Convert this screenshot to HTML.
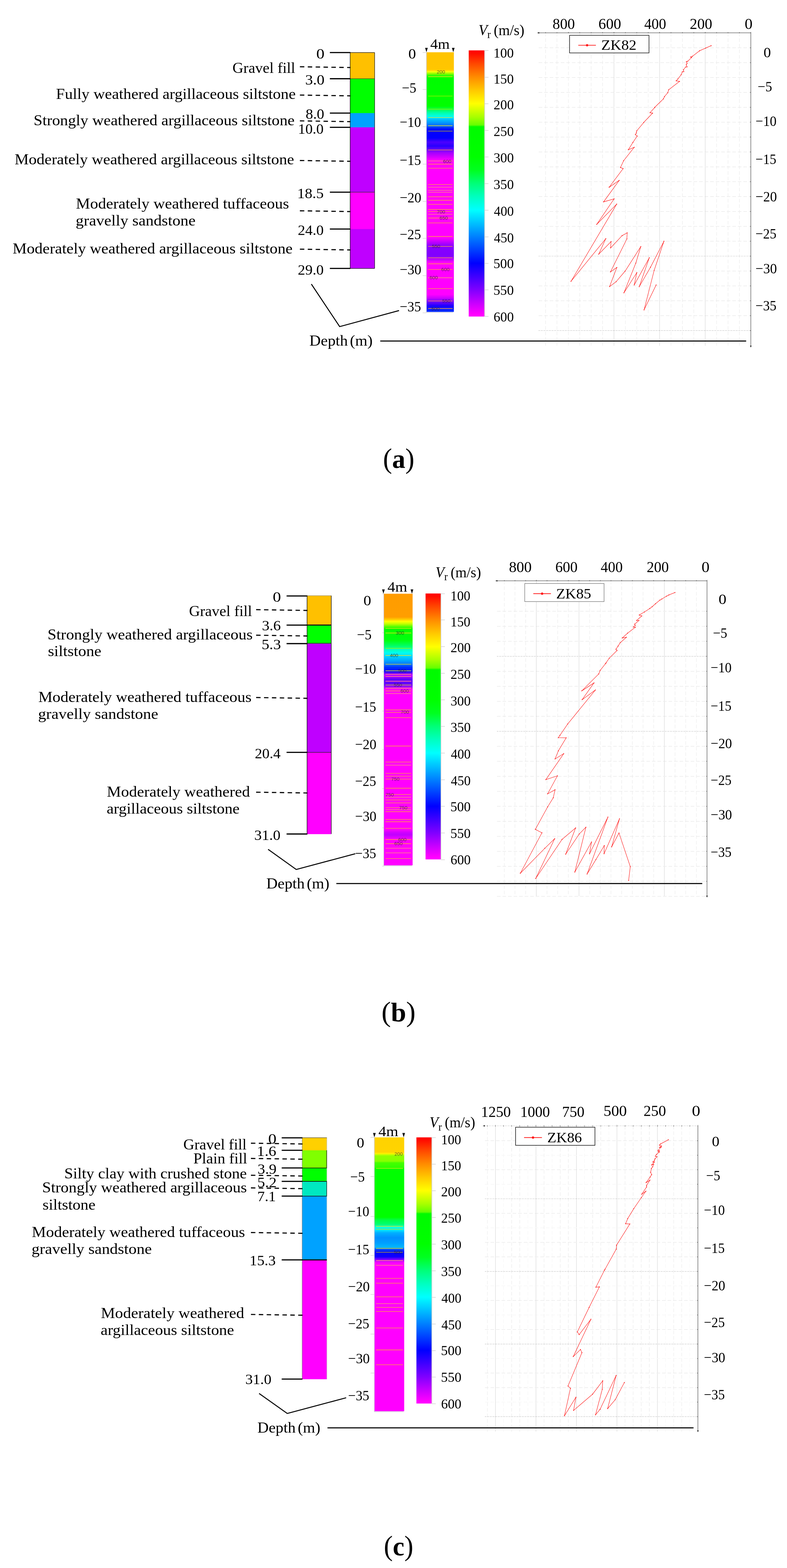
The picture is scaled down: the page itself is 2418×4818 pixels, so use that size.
<!DOCTYPE html>
<html lang="en"><head><meta charset="utf-8"><title>Borehole logs and Rayleigh wave velocity profiles</title>
<style>
html,body{margin:0;padding:0;background:#fff}
svg{display:block}
text{font-family:"Liberation Serif", "DejaVu Serif", serif;white-space:pre}
text.s{font-family:"Liberation Sans", "DejaVu Sans", sans-serif}
</style></head>
<body>
<svg width="2418" height="4818" viewBox="0 0 2418 4818">
<defs><linearGradient id="cb" x1="0" y1="0" x2="0" y2="1"><stop offset="0.0000" stop-color="#ff0000"/><stop offset="0.0080" stop-color="#ff0800"/><stop offset="0.0500" stop-color="#ff4800"/><stop offset="0.1000" stop-color="#ff8c00"/><stop offset="0.1500" stop-color="#ffc800"/><stop offset="0.2000" stop-color="#ffff00"/><stop offset="0.2500" stop-color="#a8ff00"/><stop offset="0.2800" stop-color="#66ff00"/><stop offset="0.2870" stop-color="#00fb00"/><stop offset="0.4000" stop-color="#00ff00"/><stop offset="0.4500" stop-color="#00ff20"/><stop offset="0.5000" stop-color="#00ff78"/><stop offset="0.5500" stop-color="#00ffc0"/><stop offset="0.6000" stop-color="#00ffff"/><stop offset="0.6500" stop-color="#00c0ff"/><stop offset="0.7000" stop-color="#0080ff"/><stop offset="0.7500" stop-color="#0040ff"/><stop offset="0.8000" stop-color="#0000ff"/><stop offset="0.8500" stop-color="#4000ff"/><stop offset="0.9000" stop-color="#8000ff"/><stop offset="0.9500" stop-color="#c800ff"/><stop offset="0.9900" stop-color="#ff00ff"/><stop offset="1.0000" stop-color="#ff00ff"/></linearGradient><linearGradient id="p0v" x1="0" y1="0" x2="0" y2="1"><stop offset="0.0000" stop-color="#ffc400"/><stop offset="0.0657" stop-color="#ffc600"/><stop offset="0.0707" stop-color="#ffdc00"/><stop offset="0.0745" stop-color="#fbff08"/><stop offset="0.0807" stop-color="#a8ff00"/><stop offset="0.0895" stop-color="#30ff00"/><stop offset="0.0995" stop-color="#00fc00"/><stop offset="0.2073" stop-color="#00ff00"/><stop offset="0.2174" stop-color="#00ff38"/><stop offset="0.2312" stop-color="#00ffa0"/><stop offset="0.2450" stop-color="#00ffe0"/><stop offset="0.2512" stop-color="#00f0ff"/><stop offset="0.2575" stop-color="#00c4ff"/><stop offset="0.2713" stop-color="#0098ff"/><stop offset="0.2838" stop-color="#0064ff"/><stop offset="0.2938" stop-color="#0018ff"/><stop offset="0.3039" stop-color="#0000ff"/><stop offset="0.3302" stop-color="#0400ff"/><stop offset="0.3465" stop-color="#4c00ff"/><stop offset="0.3615" stop-color="#2800ff"/><stop offset="0.3728" stop-color="#6000ff"/><stop offset="0.3879" stop-color="#a800ff"/><stop offset="0.4029" stop-color="#d400ff"/><stop offset="0.4167" stop-color="#ff00ff"/><stop offset="0.7138" stop-color="#ff00ff"/><stop offset="0.7288" stop-color="#c800ff"/><stop offset="0.7464" stop-color="#8800ff"/><stop offset="0.7840" stop-color="#8000ff"/><stop offset="0.7953" stop-color="#b000ff"/><stop offset="0.8091" stop-color="#ff00ff"/><stop offset="0.9332" stop-color="#ff00ff"/><stop offset="0.9457" stop-color="#d000ff"/><stop offset="0.9620" stop-color="#7000ff"/><stop offset="0.9771" stop-color="#1c00ff"/><stop offset="1.0000" stop-color="#0030ff"/></linearGradient><linearGradient id="p1v" x1="0" y1="0" x2="0" y2="1"><stop offset="0.0000" stop-color="#ff9c00"/><stop offset="0.0858" stop-color="#ff9e00"/><stop offset="0.0942" stop-color="#ffc800"/><stop offset="0.1020" stop-color="#ffff00"/><stop offset="0.1110" stop-color="#c0ff00"/><stop offset="0.1217" stop-color="#50ff00"/><stop offset="0.1301" stop-color="#00fc00"/><stop offset="0.1721" stop-color="#00ff10"/><stop offset="0.1948" stop-color="#00ff70"/><stop offset="0.2056" stop-color="#00ffc0"/><stop offset="0.2176" stop-color="#00fff0"/><stop offset="0.2296" stop-color="#00d8ff"/><stop offset="0.2464" stop-color="#00a8ff"/><stop offset="0.2608" stop-color="#0070ff"/><stop offset="0.2703" stop-color="#0030ff"/><stop offset="0.2847" stop-color="#0010ff"/><stop offset="0.2919" stop-color="#6000ff"/><stop offset="0.3003" stop-color="#c400ff"/><stop offset="0.3075" stop-color="#9000ff"/><stop offset="0.3159" stop-color="#5c00ff"/><stop offset="0.3351" stop-color="#6800ff"/><stop offset="0.3434" stop-color="#a800ff"/><stop offset="0.3518" stop-color="#ff00ff"/><stop offset="0.8671" stop-color="#ff00ff"/><stop offset="0.8791" stop-color="#d000ff"/><stop offset="0.8875" stop-color="#c000ff"/><stop offset="0.8971" stop-color="#e000ff"/><stop offset="0.9055" stop-color="#ff00ff"/><stop offset="1.0000" stop-color="#ff00ff"/></linearGradient><linearGradient id="p2v" x1="0" y1="0" x2="0" y2="1"><stop offset="0.0000" stop-color="#ffd200"/><stop offset="0.0537" stop-color="#ffd400"/><stop offset="0.0591" stop-color="#fff000"/><stop offset="0.0632" stop-color="#c4ff00"/><stop offset="0.0680" stop-color="#90ff00"/><stop offset="0.0870" stop-color="#88ff00"/><stop offset="0.0929" stop-color="#44ff00"/><stop offset="0.1096" stop-color="#30ff00"/><stop offset="0.1143" stop-color="#00ff00"/><stop offset="0.2914" stop-color="#00ff00"/><stop offset="0.3009" stop-color="#00ff40"/><stop offset="0.3176" stop-color="#00ff70"/><stop offset="0.3271" stop-color="#00ffd0"/><stop offset="0.3366" stop-color="#00f0ff"/><stop offset="0.3485" stop-color="#00b0ff"/><stop offset="0.3663" stop-color="#0090ff"/><stop offset="0.3865" stop-color="#00a0ff"/><stop offset="0.4008" stop-color="#00b8ff"/><stop offset="0.4103" stop-color="#0040ff"/><stop offset="0.4198" stop-color="#0000ff"/><stop offset="0.4364" stop-color="#1000ff"/><stop offset="0.4459" stop-color="#8000ff"/><stop offset="0.4578" stop-color="#ff00ff"/><stop offset="1.0000" stop-color="#ff00ff"/></linearGradient></defs>
<rect width="2418" height="4818" fill="#fff"/>
<rect x="1075.7" y="161.5" width="75.4" height="80.9" fill="#ffc000"/>
<rect x="1075.7" y="241.9" width="75.4" height="106.1" fill="#00ff00"/>
<rect x="1075.7" y="347.5" width="75.4" height="44.2" fill="#00a2ff"/>
<rect x="1075.7" y="391.2" width="75.4" height="199.8" fill="#bf00ff"/>
<rect x="1075.7" y="590.5" width="75.4" height="113.8" fill="#ff00ff"/>
<rect x="1075.7" y="703.8" width="75.4" height="121.5" fill="#bf00ff"/>
<line x1="1075.7" y1="161.5" x2="1075.7" y2="824.8" stroke="#111" stroke-width="1.4" stroke-linecap="butt"/>
<line x1="1151.1" y1="161.5" x2="1151.1" y2="824.8" stroke="#111" stroke-width="1.4" stroke-linecap="butt"/>
<line x1="1075.7" y1="161.5" x2="1151.1" y2="161.5" stroke="#111" stroke-width="1.4" stroke-linecap="butt"/>
<line x1="1075.7" y1="824.8" x2="1151.1" y2="824.8" stroke="#111" stroke-width="1.4" stroke-linecap="butt"/>
<line x1="1075.7" y1="241.9" x2="1151.1" y2="241.9" stroke="#333" stroke-width="1.3" stroke-linecap="butt"/>
<line x1="1075.7" y1="590.5" x2="1151.1" y2="590.5" stroke="#333" stroke-width="1.3" stroke-linecap="butt"/>
<line x1="1013.5" y1="161.5" x2="1076.7" y2="161.5" stroke="#000" stroke-width="3.6" stroke-linecap="butt"/>
<line x1="1013.5" y1="241.9" x2="1076.7" y2="241.9" stroke="#000" stroke-width="3.6" stroke-linecap="butt"/>
<line x1="1013.5" y1="347.5" x2="1076.7" y2="347.5" stroke="#000" stroke-width="3.6" stroke-linecap="butt"/>
<line x1="1013.5" y1="391.2" x2="1076.7" y2="391.2" stroke="#000" stroke-width="3.6" stroke-linecap="butt"/>
<line x1="1013.5" y1="590.5" x2="1076.7" y2="590.5" stroke="#000" stroke-width="3.6" stroke-linecap="butt"/>
<line x1="1013.5" y1="703.8" x2="1076.7" y2="703.8" stroke="#000" stroke-width="3.6" stroke-linecap="butt"/>
<line x1="1013.5" y1="824.8" x2="1076.7" y2="824.8" stroke="#000" stroke-width="3.6" stroke-linecap="butt"/>
<line x1="921.4" y1="205.1" x2="1076.9" y2="207.5" stroke="#000" stroke-width="3.4" stroke-dasharray="13.6 10.6" stroke-linecap="butt"/>
<line x1="921.4" y1="292.1" x2="1076.9" y2="294.5" stroke="#000" stroke-width="3.4" stroke-dasharray="13.6 10.6" stroke-linecap="butt"/>
<line x1="921.4" y1="371.4" x2="1076.9" y2="373.8" stroke="#000" stroke-width="3.4" stroke-dasharray="13.6 10.6" stroke-linecap="butt"/>
<line x1="921.4" y1="493.2" x2="1076.9" y2="495.6" stroke="#000" stroke-width="3.4" stroke-dasharray="13.6 10.6" stroke-linecap="butt"/>
<line x1="921.4" y1="647.7" x2="1076.9" y2="650.1" stroke="#000" stroke-width="3.4" stroke-dasharray="13.6 10.6" stroke-linecap="butt"/>
<line x1="921.4" y1="765.6" x2="1076.9" y2="768" stroke="#000" stroke-width="3.4" stroke-dasharray="13.6 10.6" stroke-linecap="butt"/>
<text transform="translate(971.76 180.20) scale(1.1208 1)" font-size="45">0</text>
<text transform="translate(937.67 260.10) scale(1.0556 1)" font-size="45">3.0</text>
<text transform="translate(938.96 365.20) scale(1.0191 1)" font-size="45">8.0</text>
<text transform="translate(915.82 410.80) scale(0.9959 1)" font-size="45">10.0</text>
<text transform="translate(913.16 609.40) scale(1.0340 1)" font-size="45">18.5</text>
<text transform="translate(914.98 722.00) scale(1.0093 1)" font-size="45">24.0</text>
<text transform="translate(914.98 844.20) scale(1.0093 1)" font-size="45">29.0</text>
<text transform="translate(714.22 223.50) scale(0.9916 1)" font-size="47">Gravel fill</text>
<text transform="translate(172.08 304.40) scale(1.0370 1)" font-size="47">Fully weathered argillaceous siltstone</text>
<text transform="translate(103.27 385.40) scale(1.0375 1)" font-size="47">Strongly weathered argillaceous siltstone</text>
<text transform="translate(44.88 504.50) scale(1.0379 1)" font-size="47">Moderately weathered argillaceous siltstone</text>
<text transform="translate(233.37 640.60) scale(1.0427 1)" font-size="47">Moderately weathered tuffaceous</text>
<text transform="translate(232.59 693.30) scale(1.0493 1)" font-size="47">gravelly sandstone</text>
<text transform="translate(38.77 778.80) scale(1.0393 1)" font-size="47">Moderately weathered argillaceous siltstone</text>
<polyline points="956.6,872.9 1043.6,1003.6 1226,954.3" fill="none" stroke="#000" stroke-width="3" stroke-linejoin="miter"/>
<text transform="translate(950.59 1062.40) scale(1.0279 1)" font-size="47">Depth<tspan dx="-5.5"> (m)</tspan></text>
<line x1="2271.77" y1="100.9" x2="2271.77" y2="1062" stroke="#ececec" stroke-width="1.5" stroke-dasharray="11 6" stroke-linecap="butt"/>
<line x1="2236.74" y1="100.9" x2="2236.74" y2="1062" stroke="#ececec" stroke-width="1.5" stroke-dasharray="11 6" stroke-linecap="butt"/>
<line x1="2201.71" y1="100.9" x2="2201.71" y2="1062" stroke="#ececec" stroke-width="1.5" stroke-dasharray="11 6" stroke-linecap="butt"/>
<line x1="2166.68" y1="100.9" x2="2166.68" y2="1062" stroke="#a8a8a8" stroke-width="1.2" stroke-dasharray="1.5 1.5" stroke-linecap="butt"/>
<line x1="2131.65" y1="100.9" x2="2131.65" y2="1062" stroke="#ececec" stroke-width="1.5" stroke-dasharray="11 6" stroke-linecap="butt"/>
<line x1="2096.62" y1="100.9" x2="2096.62" y2="1062" stroke="#ececec" stroke-width="1.5" stroke-dasharray="11 6" stroke-linecap="butt"/>
<line x1="2061.59" y1="100.9" x2="2061.59" y2="1062" stroke="#ececec" stroke-width="1.5" stroke-dasharray="11 6" stroke-linecap="butt"/>
<line x1="2026.56" y1="100.9" x2="2026.56" y2="1062" stroke="#a8a8a8" stroke-width="1.2" stroke-dasharray="1.5 1.5" stroke-linecap="butt"/>
<line x1="1991.53" y1="100.9" x2="1991.53" y2="1062" stroke="#ececec" stroke-width="1.5" stroke-dasharray="11 6" stroke-linecap="butt"/>
<line x1="1956.5" y1="100.9" x2="1956.5" y2="1062" stroke="#ececec" stroke-width="1.5" stroke-dasharray="11 6" stroke-linecap="butt"/>
<line x1="1921.47" y1="100.9" x2="1921.47" y2="1062" stroke="#ececec" stroke-width="1.5" stroke-dasharray="11 6" stroke-linecap="butt"/>
<line x1="1886.44" y1="100.9" x2="1886.44" y2="1062" stroke="#a8a8a8" stroke-width="1.2" stroke-dasharray="1.5 1.5" stroke-linecap="butt"/>
<line x1="1851.41" y1="100.9" x2="1851.41" y2="1062" stroke="#ececec" stroke-width="1.5" stroke-dasharray="11 6" stroke-linecap="butt"/>
<line x1="1816.38" y1="100.9" x2="1816.38" y2="1062" stroke="#ececec" stroke-width="1.5" stroke-dasharray="11 6" stroke-linecap="butt"/>
<line x1="1781.35" y1="100.9" x2="1781.35" y2="1062" stroke="#ececec" stroke-width="1.5" stroke-dasharray="11 6" stroke-linecap="butt"/>
<line x1="1746.32" y1="100.9" x2="1746.32" y2="1062" stroke="#ececec" stroke-width="1.5" stroke-dasharray="11 6" stroke-linecap="butt"/>
<line x1="1711.29" y1="100.9" x2="1711.29" y2="1062" stroke="#ececec" stroke-width="1.5" stroke-dasharray="11 6" stroke-linecap="butt"/>
<line x1="1676.26" y1="100.9" x2="1676.26" y2="1062" stroke="#ececec" stroke-width="1.5" stroke-dasharray="11 6" stroke-linecap="butt"/>
<line x1="1655" y1="146.8" x2="2306.8" y2="146.8" stroke="#e8e8e8" stroke-width="1.5" stroke-dasharray="11 6" stroke-linecap="butt"/>
<line x1="1655" y1="192.53" x2="2306.8" y2="192.53" stroke="#e8e8e8" stroke-width="1.5" stroke-dasharray="11 6" stroke-linecap="butt"/>
<line x1="1655" y1="238.26" x2="2306.8" y2="238.26" stroke="#e8e8e8" stroke-width="1.5" stroke-dasharray="11 6" stroke-linecap="butt"/>
<line x1="1655" y1="283.99" x2="2306.8" y2="283.99" stroke="#e8e8e8" stroke-width="1.5" stroke-dasharray="11 6" stroke-linecap="butt"/>
<line x1="1655" y1="329.72" x2="2306.8" y2="329.72" stroke="#e8e8e8" stroke-width="1.5" stroke-dasharray="11 6" stroke-linecap="butt"/>
<line x1="1655" y1="375.45" x2="2306.8" y2="375.45" stroke="#e8e8e8" stroke-width="1.5" stroke-dasharray="11 6" stroke-linecap="butt"/>
<line x1="1655" y1="421.18" x2="2306.8" y2="421.18" stroke="#e8e8e8" stroke-width="1.5" stroke-dasharray="11 6" stroke-linecap="butt"/>
<line x1="1655" y1="466.91" x2="2306.8" y2="466.91" stroke="#e8e8e8" stroke-width="1.5" stroke-dasharray="11 6" stroke-linecap="butt"/>
<line x1="1655" y1="512.64" x2="2306.8" y2="512.64" stroke="#e8e8e8" stroke-width="1.5" stroke-dasharray="11 6" stroke-linecap="butt"/>
<line x1="1655" y1="558.37" x2="2306.8" y2="558.37" stroke="#e8e8e8" stroke-width="1.5" stroke-dasharray="11 6" stroke-linecap="butt"/>
<line x1="1655" y1="604.1" x2="2306.8" y2="604.1" stroke="#e8e8e8" stroke-width="1.5" stroke-dasharray="11 6" stroke-linecap="butt"/>
<line x1="1655" y1="649.83" x2="2306.8" y2="649.83" stroke="#e8e8e8" stroke-width="1.5" stroke-dasharray="11 6" stroke-linecap="butt"/>
<line x1="1655" y1="695.56" x2="2306.8" y2="695.56" stroke="#e8e8e8" stroke-width="1.5" stroke-dasharray="11 6" stroke-linecap="butt"/>
<line x1="1655" y1="741.29" x2="2306.8" y2="741.29" stroke="#e8e8e8" stroke-width="1.5" stroke-dasharray="11 6" stroke-linecap="butt"/>
<line x1="1655" y1="787.02" x2="2306.8" y2="787.02" stroke="#adadad" stroke-width="1.2" stroke-dasharray="3 2 1.2 2" stroke-linecap="butt"/>
<line x1="1655" y1="832.75" x2="2306.8" y2="832.75" stroke="#e8e8e8" stroke-width="1.5" stroke-dasharray="11 6" stroke-linecap="butt"/>
<line x1="1655" y1="878.48" x2="2306.8" y2="878.48" stroke="#e8e8e8" stroke-width="1.5" stroke-dasharray="11 6" stroke-linecap="butt"/>
<line x1="1655" y1="924.21" x2="2306.8" y2="924.21" stroke="#e8e8e8" stroke-width="1.5" stroke-dasharray="11 6" stroke-linecap="butt"/>
<line x1="1655" y1="969.94" x2="2306.8" y2="969.94" stroke="#e8e8e8" stroke-width="1.5" stroke-dasharray="11 6" stroke-linecap="butt"/>
<line x1="1655" y1="1015.67" x2="2306.8" y2="1015.67" stroke="#adadad" stroke-width="1.2" stroke-dasharray="3 2 1.2 2" stroke-linecap="butt"/>
<line x1="1654.3" y1="100.9" x2="2306.8" y2="100.9" stroke="#3a3a3a" stroke-width="1.25" stroke-linecap="butt"/>
<line x1="2306.8" y1="97.9" x2="2306.8" y2="101.4" stroke="#3a3a3a" stroke-width="1.1" stroke-linecap="butt"/>
<line x1="2271.77" y1="98.7" x2="2271.77" y2="101.4" stroke="#3a3a3a" stroke-width="1.1" stroke-linecap="butt"/>
<line x1="2236.74" y1="98.7" x2="2236.74" y2="101.4" stroke="#3a3a3a" stroke-width="1.1" stroke-linecap="butt"/>
<line x1="2201.71" y1="98.7" x2="2201.71" y2="101.4" stroke="#3a3a3a" stroke-width="1.1" stroke-linecap="butt"/>
<line x1="2166.68" y1="97.9" x2="2166.68" y2="101.4" stroke="#3a3a3a" stroke-width="1.1" stroke-linecap="butt"/>
<line x1="2131.65" y1="98.7" x2="2131.65" y2="101.4" stroke="#3a3a3a" stroke-width="1.1" stroke-linecap="butt"/>
<line x1="2096.62" y1="98.7" x2="2096.62" y2="101.4" stroke="#3a3a3a" stroke-width="1.1" stroke-linecap="butt"/>
<line x1="2061.59" y1="98.7" x2="2061.59" y2="101.4" stroke="#3a3a3a" stroke-width="1.1" stroke-linecap="butt"/>
<line x1="2026.56" y1="97.9" x2="2026.56" y2="101.4" stroke="#3a3a3a" stroke-width="1.1" stroke-linecap="butt"/>
<line x1="1991.53" y1="98.7" x2="1991.53" y2="101.4" stroke="#3a3a3a" stroke-width="1.1" stroke-linecap="butt"/>
<line x1="1956.5" y1="98.7" x2="1956.5" y2="101.4" stroke="#3a3a3a" stroke-width="1.1" stroke-linecap="butt"/>
<line x1="1921.47" y1="98.7" x2="1921.47" y2="101.4" stroke="#3a3a3a" stroke-width="1.1" stroke-linecap="butt"/>
<line x1="1886.44" y1="97.9" x2="1886.44" y2="101.4" stroke="#3a3a3a" stroke-width="1.1" stroke-linecap="butt"/>
<line x1="1851.41" y1="98.7" x2="1851.41" y2="101.4" stroke="#3a3a3a" stroke-width="1.1" stroke-linecap="butt"/>
<line x1="1816.38" y1="98.7" x2="1816.38" y2="101.4" stroke="#3a3a3a" stroke-width="1.1" stroke-linecap="butt"/>
<line x1="1781.35" y1="98.7" x2="1781.35" y2="101.4" stroke="#3a3a3a" stroke-width="1.1" stroke-linecap="butt"/>
<line x1="1746.32" y1="97.9" x2="1746.32" y2="101.4" stroke="#3a3a3a" stroke-width="1.1" stroke-linecap="butt"/>
<line x1="1711.29" y1="98.7" x2="1711.29" y2="101.4" stroke="#3a3a3a" stroke-width="1.1" stroke-linecap="butt"/>
<line x1="1676.26" y1="98.7" x2="1676.26" y2="101.4" stroke="#3a3a3a" stroke-width="1.1" stroke-linecap="butt"/>
<path d="M1650.3 100.9 l6.5 -2.4 l0 4.8 z" fill="#222"/>
<line x1="2306.8" y1="100.2" x2="2306.8" y2="1064" stroke="#3a3a3a" stroke-width="1.3" stroke-linecap="butt"/>
<path d="M2306.8 1068 l-2.4 -6 l4.8 0 z" fill="#222"/>
<line x1="2304.6" y1="146.8" x2="2307.3" y2="146.8" stroke="#3a3a3a" stroke-width="1.3" stroke-linecap="butt"/>
<line x1="2304.6" y1="192.53" x2="2307.3" y2="192.53" stroke="#3a3a3a" stroke-width="1.3" stroke-linecap="butt"/>
<line x1="2304.6" y1="238.26" x2="2307.3" y2="238.26" stroke="#3a3a3a" stroke-width="1.3" stroke-linecap="butt"/>
<line x1="2304.6" y1="283.99" x2="2307.3" y2="283.99" stroke="#3a3a3a" stroke-width="1.3" stroke-linecap="butt"/>
<line x1="2304.6" y1="329.72" x2="2307.3" y2="329.72" stroke="#3a3a3a" stroke-width="1.3" stroke-linecap="butt"/>
<line x1="2304.6" y1="375.45" x2="2307.3" y2="375.45" stroke="#3a3a3a" stroke-width="1.3" stroke-linecap="butt"/>
<line x1="2304.6" y1="421.18" x2="2307.3" y2="421.18" stroke="#3a3a3a" stroke-width="1.3" stroke-linecap="butt"/>
<line x1="2304.6" y1="466.91" x2="2307.3" y2="466.91" stroke="#3a3a3a" stroke-width="1.3" stroke-linecap="butt"/>
<line x1="2304.6" y1="512.64" x2="2307.3" y2="512.64" stroke="#3a3a3a" stroke-width="1.3" stroke-linecap="butt"/>
<line x1="2304.6" y1="558.37" x2="2307.3" y2="558.37" stroke="#3a3a3a" stroke-width="1.3" stroke-linecap="butt"/>
<line x1="2304.6" y1="604.1" x2="2307.3" y2="604.1" stroke="#3a3a3a" stroke-width="1.3" stroke-linecap="butt"/>
<line x1="2304.6" y1="649.83" x2="2307.3" y2="649.83" stroke="#3a3a3a" stroke-width="1.3" stroke-linecap="butt"/>
<line x1="2304.6" y1="695.56" x2="2307.3" y2="695.56" stroke="#3a3a3a" stroke-width="1.3" stroke-linecap="butt"/>
<line x1="2304.6" y1="741.29" x2="2307.3" y2="741.29" stroke="#3a3a3a" stroke-width="1.3" stroke-linecap="butt"/>
<line x1="2304.6" y1="787.02" x2="2307.3" y2="787.02" stroke="#3a3a3a" stroke-width="1.3" stroke-linecap="butt"/>
<line x1="2304.6" y1="832.75" x2="2307.3" y2="832.75" stroke="#3a3a3a" stroke-width="1.3" stroke-linecap="butt"/>
<line x1="2304.6" y1="878.48" x2="2307.3" y2="878.48" stroke="#3a3a3a" stroke-width="1.3" stroke-linecap="butt"/>
<line x1="2304.6" y1="924.21" x2="2307.3" y2="924.21" stroke="#3a3a3a" stroke-width="1.3" stroke-linecap="butt"/>
<line x1="2304.6" y1="969.94" x2="2307.3" y2="969.94" stroke="#3a3a3a" stroke-width="1.3" stroke-linecap="butt"/>
<line x1="2304.6" y1="1015.67" x2="2307.3" y2="1015.67" stroke="#3a3a3a" stroke-width="1.3" stroke-linecap="butt"/>
<polyline points="2184.92,140.46 2168.23,147.7 2149.13,156.14 2127.01,173.23 2121.98,175.24 2125,176.65 2112.93,188.31 2108.91,189.32 2110.92,194.35 2108.51,199.37 2110.92,205.41 2106.5,205.81 2099.86,214.46 2100.87,220.09 2096.44,220.49 2092.83,229.54 2082.77,242.61 2077.74,248.24 2087.8,250.05 2054.62,275.79 2051.6,284.84 2041.55,296.9 2038.13,303.94 2011.39,330.08 2011.93,330.05 1997.25,346.14 2004.89,347.75 1977.74,376.3 1956.23,402.45 1955.02,408.48 1952.21,413.5 1957.64,418.13 1944.56,437.64 1930.49,460.16 1948.59,452.72 1916.01,493.94 1906.36,514.65 1914.4,518.07 1871.6,575.41 1902.37,554.29 1854.51,620.25 1886.68,611.2 1833.4,689.42 1894.73,627.09 1754.35,864.46 1861.26,733.31 1839.48,781.07 1877.34,742.46 1876.1,761.76 1911.24,724.15 1926.83,715.49 1926.09,734.05 1875.61,835.51 1895.16,821.9 1872.89,880.55 1892.93,865.7 1920.65,833.03 1968.9,757.56 1953.31,808.78 1916.94,899.85 1956.53,837.74 1948.61,875.6 1994.89,791.95 1963.95,881.04 1998.6,821.16 2039.93,741.22 2009.74,831.05 1978.8,952.31 2015.92,875.6" fill="none" stroke="#ff1c1c" stroke-width="1.3" stroke-linejoin="round"/>
<circle cx="2184.92" cy="140.46" r="1.4" fill="#ff1c1c"/>
<circle cx="2168.23" cy="147.7" r="1.4" fill="#ff1c1c"/>
<circle cx="2149.13" cy="156.14" r="1.4" fill="#ff1c1c"/>
<circle cx="2127.01" cy="173.23" r="1.4" fill="#ff1c1c"/>
<circle cx="2121.98" cy="175.24" r="1.4" fill="#ff1c1c"/>
<circle cx="2125" cy="176.65" r="1.4" fill="#ff1c1c"/>
<circle cx="2112.93" cy="188.31" r="1.4" fill="#ff1c1c"/>
<circle cx="2108.91" cy="189.32" r="1.4" fill="#ff1c1c"/>
<circle cx="2110.92" cy="194.35" r="1.4" fill="#ff1c1c"/>
<circle cx="2108.51" cy="199.37" r="1.4" fill="#ff1c1c"/>
<circle cx="2110.92" cy="205.41" r="1.4" fill="#ff1c1c"/>
<circle cx="2106.5" cy="205.81" r="1.4" fill="#ff1c1c"/>
<circle cx="2099.86" cy="214.46" r="1.4" fill="#ff1c1c"/>
<circle cx="2100.87" cy="220.09" r="1.4" fill="#ff1c1c"/>
<circle cx="2096.44" cy="220.49" r="1.4" fill="#ff1c1c"/>
<circle cx="2092.83" cy="229.54" r="1.4" fill="#ff1c1c"/>
<circle cx="2082.77" cy="242.61" r="1.4" fill="#ff1c1c"/>
<circle cx="2077.74" cy="248.24" r="1.4" fill="#ff1c1c"/>
<circle cx="2087.8" cy="250.05" r="1.4" fill="#ff1c1c"/>
<circle cx="2054.62" cy="275.79" r="1.4" fill="#ff1c1c"/>
<circle cx="2051.6" cy="284.84" r="1.4" fill="#ff1c1c"/>
<circle cx="2041.55" cy="296.9" r="1.4" fill="#ff1c1c"/>
<circle cx="2038.13" cy="303.94" r="1.4" fill="#ff1c1c"/>
<circle cx="2011.39" cy="330.08" r="1.4" fill="#ff1c1c"/>
<circle cx="2011.93" cy="330.05" r="1.4" fill="#ff1c1c"/>
<circle cx="1997.25" cy="346.14" r="1.4" fill="#ff1c1c"/>
<circle cx="2004.89" cy="347.75" r="1.4" fill="#ff1c1c"/>
<circle cx="1977.74" cy="376.3" r="1.4" fill="#ff1c1c"/>
<circle cx="1956.23" cy="402.45" r="1.4" fill="#ff1c1c"/>
<circle cx="1955.02" cy="408.48" r="1.4" fill="#ff1c1c"/>
<circle cx="1952.21" cy="413.5" r="1.4" fill="#ff1c1c"/>
<circle cx="1957.64" cy="418.13" r="1.4" fill="#ff1c1c"/>
<circle cx="1944.56" cy="437.64" r="1.4" fill="#ff1c1c"/>
<circle cx="1930.49" cy="460.16" r="1.4" fill="#ff1c1c"/>
<circle cx="1948.59" cy="452.72" r="1.4" fill="#ff1c1c"/>
<circle cx="1916.01" cy="493.94" r="1.4" fill="#ff1c1c"/>
<circle cx="1906.36" cy="514.65" r="1.4" fill="#ff1c1c"/>
<circle cx="1914.4" cy="518.07" r="1.4" fill="#ff1c1c"/>
<circle cx="1871.6" cy="575.41" r="1.4" fill="#ff1c1c"/>
<circle cx="1902.37" cy="554.29" r="1.4" fill="#ff1c1c"/>
<circle cx="1854.51" cy="620.25" r="1.4" fill="#ff1c1c"/>
<circle cx="1886.68" cy="611.2" r="1.4" fill="#ff1c1c"/>
<circle cx="1833.4" cy="689.42" r="1.4" fill="#ff1c1c"/>
<circle cx="1894.73" cy="627.09" r="1.4" fill="#ff1c1c"/>
<circle cx="1754.35" cy="864.46" r="1.4" fill="#ff1c1c"/>
<circle cx="1861.26" cy="733.31" r="1.4" fill="#ff1c1c"/>
<circle cx="1839.48" cy="781.07" r="1.4" fill="#ff1c1c"/>
<circle cx="1877.34" cy="742.46" r="1.4" fill="#ff1c1c"/>
<circle cx="1876.1" cy="761.76" r="1.4" fill="#ff1c1c"/>
<circle cx="1911.24" cy="724.15" r="1.4" fill="#ff1c1c"/>
<circle cx="1926.83" cy="715.49" r="1.4" fill="#ff1c1c"/>
<circle cx="1926.09" cy="734.05" r="1.4" fill="#ff1c1c"/>
<circle cx="1875.61" cy="835.51" r="1.4" fill="#ff1c1c"/>
<circle cx="1895.16" cy="821.9" r="1.4" fill="#ff1c1c"/>
<circle cx="1872.89" cy="880.55" r="1.4" fill="#ff1c1c"/>
<circle cx="1892.93" cy="865.7" r="1.4" fill="#ff1c1c"/>
<circle cx="1920.65" cy="833.03" r="1.4" fill="#ff1c1c"/>
<circle cx="1968.9" cy="757.56" r="1.4" fill="#ff1c1c"/>
<circle cx="1953.31" cy="808.78" r="1.4" fill="#ff1c1c"/>
<circle cx="1916.94" cy="899.85" r="1.4" fill="#ff1c1c"/>
<circle cx="1956.53" cy="837.74" r="1.4" fill="#ff1c1c"/>
<circle cx="1948.61" cy="875.6" r="1.4" fill="#ff1c1c"/>
<circle cx="1994.89" cy="791.95" r="1.4" fill="#ff1c1c"/>
<circle cx="1963.95" cy="881.04" r="1.4" fill="#ff1c1c"/>
<circle cx="1998.6" cy="821.16" r="1.4" fill="#ff1c1c"/>
<circle cx="2039.93" cy="741.22" r="1.4" fill="#ff1c1c"/>
<circle cx="2009.74" cy="831.05" r="1.4" fill="#ff1c1c"/>
<circle cx="1978.8" cy="952.31" r="1.4" fill="#ff1c1c"/>
<circle cx="2015.92" cy="875.6" r="1.4" fill="#ff1c1c"/>
<line x1="1168.3" y1="1047.9" x2="2292.5" y2="1047.9" stroke="#000" stroke-width="3.4" stroke-linecap="butt"/>
<rect x="1750" y="108.5" width="244" height="54.1" fill="#fff" stroke="#000" stroke-width="1.6"/>
<line x1="1776.7" y1="139" x2="1830.9" y2="139" stroke="#ff1a1a" stroke-width="2.2" stroke-linecap="butt"/>
<circle cx="1803.8" cy="139" r="3.6" fill="#ff1a1a"/>
<text transform="translate(1847.15 153.00) scale(1.0555 1)" font-size="44">ZK82</text>
<text transform="translate(1697.82 89.40) scale(0.9923 1)" font-size="46">800</text>
<text transform="translate(1838.87 89.40) scale(1.0064 1)" font-size="46">600</text>
<text transform="translate(1979.42 89.40) scale(0.9758 1)" font-size="46">400</text>
<text transform="translate(2119.18 89.20) scale(1.0018 1)" font-size="46">200</text>
<text transform="translate(2288.11 89.20) scale(1.0474 1)" font-size="46">0</text>
<text transform="translate(2346.09 176.00) scale(1.0033 1)" font-size="45">0</text>
<text transform="translate(2328.02 281.00) scale(0.9236 1)" font-size="45">−5</text>
<text transform="translate(2321.54 387.00) scale(0.9131 1)" font-size="45">−10</text>
<text transform="translate(2321.35 503.70) scale(0.9080 1)" font-size="45">−15</text>
<text transform="translate(2321.29 618.60) scale(0.9341 1)" font-size="45">−20</text>
<text transform="translate(2321.34 732.80) scale(0.9125 1)" font-size="45">−25</text>
<text transform="translate(2321.29 839.80) scale(0.9341 1)" font-size="45">−30</text>
<text transform="translate(2321.34 954.00) scale(0.9125 1)" font-size="45">−35</text>
<rect x="1309.5" y="160.6" width="2.5" height="800.2" fill="#c9c3d6"/>
<rect x="1309.5" y="958.3" width="83" height="2.5" fill="#d8d4e0"/>
<rect x="1311" y="160.6" width="83.5" height="797.7" fill="url(#p0v)"/>
<line x1="1315.5" y1="235.6" x2="1390.5" y2="235.6" stroke="#f2e21a" stroke-width="1.6" stroke-linecap="butt"/>
<line x1="1315.5" y1="295.2" x2="1390.5" y2="295.2" stroke="#a8f400" stroke-width="1.6" stroke-linecap="butt"/>
<line x1="1315.5" y1="335.4" x2="1390.5" y2="335.4" stroke="#a8f400" stroke-width="1.6" stroke-linecap="butt"/>
<line x1="1315.5" y1="361.3" x2="1390.5" y2="361.3" stroke="#f2e21a" stroke-width="1.6" stroke-linecap="butt"/>
<line x1="1315.5" y1="386.4" x2="1390.5" y2="386.4" stroke="#f2e21a" stroke-width="1.6" stroke-linecap="butt"/>
<line x1="1315.5" y1="402.9" x2="1390.5" y2="402.9" stroke="#b0a030" stroke-width="1.6" stroke-linecap="butt"/>
<line x1="1315.5" y1="460.7" x2="1390.5" y2="460.7" stroke="#ffa63a" stroke-width="1.6" stroke-linecap="butt"/>
<line x1="1315.5" y1="494.7" x2="1390.5" y2="494.7" stroke="#ff6f9a" stroke-width="2.3" stroke-linecap="butt"/>
<line x1="1315.5" y1="504.4" x2="1390.5" y2="504.4" stroke="#ffa63a" stroke-width="1.6" stroke-linecap="butt"/>
<line x1="1315.5" y1="516.8" x2="1390.5" y2="516.8" stroke="#ffa63a" stroke-width="1.6" stroke-linecap="butt"/>
<line x1="1315.5" y1="567" x2="1390.5" y2="567" stroke="#ffa63a" stroke-width="1.6" stroke-linecap="butt"/>
<line x1="1315.5" y1="575.2" x2="1390.5" y2="575.2" stroke="#ff6f9a" stroke-width="2.3" stroke-linecap="butt"/>
<line x1="1315.5" y1="584.8" x2="1390.5" y2="584.8" stroke="#ff6f9a" stroke-width="2.3" stroke-linecap="butt"/>
<line x1="1315.5" y1="590.6" x2="1390.5" y2="590.6" stroke="#ff6f9a" stroke-width="2.3" stroke-linecap="butt"/>
<line x1="1315.5" y1="604.6" x2="1390.5" y2="604.6" stroke="#ffa63a" stroke-width="1.6" stroke-linecap="butt"/>
<line x1="1315.5" y1="615.4" x2="1390.5" y2="615.4" stroke="#ffa63a" stroke-width="1.6" stroke-linecap="butt"/>
<line x1="1315.5" y1="627.8" x2="1390.5" y2="627.8" stroke="#ffa63a" stroke-width="1.6" stroke-linecap="butt"/>
<line x1="1315.5" y1="643.6" x2="1390.5" y2="643.6" stroke="#ffa63a" stroke-width="1.6" stroke-linecap="butt"/>
<line x1="1315.5" y1="650.2" x2="1390.5" y2="650.2" stroke="#ffa63a" stroke-width="1.6" stroke-linecap="butt"/>
<line x1="1315.5" y1="658.3" x2="1390.5" y2="658.3" stroke="#ff6f9a" stroke-width="2.3" stroke-linecap="butt"/>
<line x1="1315.5" y1="669.9" x2="1390.5" y2="669.9" stroke="#ffa63a" stroke-width="1.6" stroke-linecap="butt"/>
<line x1="1315.5" y1="685" x2="1390.5" y2="685" stroke="#ffa63a" stroke-width="1.6" stroke-linecap="butt"/>
<line x1="1315.5" y1="726.6" x2="1390.5" y2="726.6" stroke="#ffa63a" stroke-width="1.6" stroke-linecap="butt"/>
<line x1="1315.5" y1="757.3" x2="1390.5" y2="757.3" stroke="#ffa63a" stroke-width="1.6" stroke-linecap="butt"/>
<line x1="1315.5" y1="792.3" x2="1390.5" y2="792.3" stroke="#ffa63a" stroke-width="1.6" stroke-linecap="butt"/>
<line x1="1315.5" y1="810.6" x2="1390.5" y2="810.6" stroke="#ffa63a" stroke-width="1.6" stroke-linecap="butt"/>
<line x1="1315.5" y1="828" x2="1390.5" y2="828" stroke="#ffa63a" stroke-width="1.6" stroke-linecap="butt"/>
<line x1="1315.5" y1="853.5" x2="1390.5" y2="853.5" stroke="#ff6f9a" stroke-width="2.3" stroke-linecap="butt"/>
<line x1="1315.5" y1="886.8" x2="1390.5" y2="886.8" stroke="#ffa63a" stroke-width="1.6" stroke-linecap="butt"/>
<line x1="1315.5" y1="924.7" x2="1390.5" y2="924.7" stroke="#ffa63a" stroke-width="1.6" stroke-linecap="butt"/>
<line x1="1315.5" y1="947.9" x2="1390.5" y2="947.9" stroke="#ffa63a" stroke-width="1.6" stroke-linecap="butt"/>
<text x="1354.7" y="225.5" class="s" font-size="15.3" text-anchor="middle" fill="#2e2630" fill-opacity="0.74">200</text>
<text x="1373.9" y="500.5" class="s" font-size="15.3" text-anchor="middle" fill="#2e2630" fill-opacity="0.74">600</text>
<text x="1355" y="655.6" class="s" font-size="15.3" text-anchor="middle" fill="#2e2630" fill-opacity="0.74">700</text>
<text x="1363.2" y="675.2" class="s" font-size="15.3" text-anchor="middle" fill="#2e2630" fill-opacity="0.74">650</text>
<text x="1339.7" y="762.4" class="s" font-size="15.3" text-anchor="middle" fill="#2e2630" fill-opacity="0.74">550</text>
<text x="1368.6" y="833.4" class="s" font-size="15.3" text-anchor="middle" fill="#2e2630" fill-opacity="0.74">600</text>
<text x="1332.5" y="858.4" class="s" font-size="15.3" text-anchor="middle" fill="#2e2630" fill-opacity="0.74">600</text>
<text x="1371.3" y="930.4" class="s" font-size="15.3" text-anchor="middle" fill="#2e2630" fill-opacity="0.74">550</text>
<text x="1338" y="953.7" class="s" font-size="15.3" text-anchor="middle" fill="#2e2630" fill-opacity="0.74">500</text>
<line x1="1298.5" y1="161.4" x2="1310" y2="161.4" stroke="#d0d0d0" stroke-width="1.5" stroke-linecap="butt"/>
<line x1="1298.5" y1="275" x2="1310" y2="275" stroke="#d0d0d0" stroke-width="1.5" stroke-linecap="butt"/>
<line x1="1298.5" y1="389.5" x2="1310" y2="389.5" stroke="#d0d0d0" stroke-width="1.5" stroke-linecap="butt"/>
<line x1="1298.5" y1="504.4" x2="1310" y2="504.4" stroke="#d0d0d0" stroke-width="1.5" stroke-linecap="butt"/>
<line x1="1298.5" y1="618.9" x2="1310" y2="618.9" stroke="#d0d0d0" stroke-width="1.5" stroke-linecap="butt"/>
<line x1="1298.5" y1="732.4" x2="1310" y2="732.4" stroke="#d0d0d0" stroke-width="1.5" stroke-linecap="butt"/>
<line x1="1298.5" y1="847" x2="1310" y2="847" stroke="#d0d0d0" stroke-width="1.5" stroke-linecap="butt"/>
<line x1="1298.5" y1="961.3" x2="1310" y2="961.3" stroke="#d0d0d0" stroke-width="1.5" stroke-linecap="butt"/>
<text transform="translate(1254.73 179.70) scale(1.0354 1)" font-size="45">0</text>
<text transform="translate(1234.71 284.90) scale(0.9259 1)" font-size="45">−5</text>
<text transform="translate(1228.21 390.00) scale(0.9281 1)" font-size="45">−10</text>
<text transform="translate(1228.20 507.20) scale(0.9290 1)" font-size="45">−15</text>
<text transform="translate(1228.17 622.10) scale(0.9431 1)" font-size="45">−20</text>
<text transform="translate(1228.20 735.40) scale(0.9290 1)" font-size="45">−25</text>
<text transform="translate(1228.17 842.80) scale(0.9431 1)" font-size="45">−30</text>
<text transform="translate(1228.20 956.90) scale(0.9290 1)" font-size="45">−35</text>
<text transform="translate(1321.96 150.40) scale(1.0399 1)" font-size="45">4m</text>
<path d="M1306 147.1 h8.4 l-4.2 13.5 z" fill="#111"/>
<path d="M1388.4 147.1 h8.4 l-4.2 13.5 z" fill="#111"/>
<rect x="1487.5" y="154.8" width="2.3" height="817.8" fill="#cfcfcf"/>
<rect x="1440.1" y="154.8" width="47.9" height="817.8" fill="url(#cb)"/>
<line x1="1489" y1="155.2" x2="1501" y2="155.2" stroke="#cccccc" stroke-width="1.5" stroke-linecap="butt"/>
<line x1="1489" y1="237.5" x2="1501" y2="237.5" stroke="#cccccc" stroke-width="1.5" stroke-linecap="butt"/>
<line x1="1489" y1="318.8" x2="1501" y2="318.8" stroke="#cccccc" stroke-width="1.5" stroke-linecap="butt"/>
<line x1="1489" y1="400.7" x2="1501" y2="400.7" stroke="#cccccc" stroke-width="1.5" stroke-linecap="butt"/>
<line x1="1489" y1="482.4" x2="1501" y2="482.4" stroke="#cccccc" stroke-width="1.5" stroke-linecap="butt"/>
<line x1="1489" y1="564.3" x2="1501" y2="564.3" stroke="#cccccc" stroke-width="1.5" stroke-linecap="butt"/>
<line x1="1489" y1="645.9" x2="1501" y2="645.9" stroke="#cccccc" stroke-width="1.5" stroke-linecap="butt"/>
<line x1="1489" y1="727.9" x2="1501" y2="727.9" stroke="#cccccc" stroke-width="1.5" stroke-linecap="butt"/>
<line x1="1489" y1="809.4" x2="1501" y2="809.4" stroke="#cccccc" stroke-width="1.5" stroke-linecap="butt"/>
<line x1="1489" y1="890.6" x2="1501" y2="890.6" stroke="#cccccc" stroke-width="1.5" stroke-linecap="butt"/>
<line x1="1489" y1="972.2" x2="1501" y2="972.2" stroke="#cccccc" stroke-width="1.5" stroke-linecap="butt"/>
<text transform="translate(1516.34 176.70) scale(0.9658 1)" font-size="43">100</text>
<text transform="translate(1516.34 256.70) scale(0.9658 1)" font-size="43">150</text>
<text transform="translate(1516.58 336.00) scale(0.9620 1)" font-size="43">200</text>
<text transform="translate(1516.58 417.60) scale(0.9620 1)" font-size="43">250</text>
<text transform="translate(1516.44 498.80) scale(0.9641 1)" font-size="43">300</text>
<text transform="translate(1516.44 580.80) scale(0.9641 1)" font-size="43">350</text>
<text transform="translate(1517.55 662.80) scale(0.9464 1)" font-size="43">400</text>
<text transform="translate(1517.55 745.00) scale(0.9464 1)" font-size="43">450</text>
<text transform="translate(1516.01 824.00) scale(0.9709 1)" font-size="43">500</text>
<text transform="translate(1516.01 906.00) scale(0.9709 1)" font-size="43">550</text>
<text transform="translate(1516.58 988.00) scale(0.9620 1)" font-size="43">600</text>
<text transform="translate(1470.13 108.00) scale(0.9690 1)" font-size="46"><tspan font-style="italic">V</tspan><tspan font-size="33.1" dy="9.2">r</tspan><tspan dy="-9.2" dx="9.2">(m/s)</tspan></text>
<rect x="943.4" y="1831.3" width="74.4" height="90" fill="#ffc000"/>
<rect x="943.4" y="1920.8" width="74.4" height="57.3" fill="#00ff00"/>
<rect x="943.4" y="1977.6" width="74.4" height="334.6" fill="#bf00ff"/>
<rect x="943.4" y="2311.7" width="74.4" height="251.4" fill="#ff00ff"/>
<line x1="943.4" y1="1830" x2="943.4" y2="2562.6" stroke="#111" stroke-width="1.6" stroke-linecap="butt"/>
<line x1="1017.8" y1="1830" x2="1017.8" y2="2562.6" stroke="#111" stroke-width="1.6" stroke-linecap="butt"/>
<line x1="943.4" y1="1830.4" x2="1017.8" y2="1830.4" stroke="#7a5c00" stroke-width="1" stroke-linecap="butt"/>
<line x1="943.4" y1="1920.6" x2="1017.8" y2="1920.6" stroke="#111" stroke-width="3.4" stroke-linecap="butt"/>
<line x1="943.4" y1="1976.4" x2="1017.8" y2="1976.4" stroke="#1c3c1c" stroke-width="1.6" stroke-linecap="butt"/>
<line x1="943.4" y1="2311.7" x2="1017.8" y2="2311.7" stroke="#222" stroke-width="1.5" stroke-linecap="butt"/>
<line x1="880.5" y1="1831.3" x2="944.4" y2="1831.3" stroke="#000" stroke-width="3.6" stroke-linecap="butt"/>
<line x1="880.5" y1="1920.8" x2="944.4" y2="1920.8" stroke="#000" stroke-width="3.6" stroke-linecap="butt"/>
<line x1="880.5" y1="1977.6" x2="944.4" y2="1977.6" stroke="#000" stroke-width="3.6" stroke-linecap="butt"/>
<line x1="880.5" y1="2311.7" x2="944.4" y2="2311.7" stroke="#000" stroke-width="3.6" stroke-linecap="butt"/>
<line x1="880.5" y1="2562.6" x2="944.4" y2="2562.6" stroke="#000" stroke-width="3.6" stroke-linecap="butt"/>
<line x1="787" y1="1873.3" x2="944.6" y2="1875.7" stroke="#000" stroke-width="3.4" stroke-dasharray="13.6 10.6" stroke-linecap="butt"/>
<line x1="787" y1="1951.8" x2="944.6" y2="1954.2" stroke="#000" stroke-width="3.4" stroke-dasharray="13.6 10.6" stroke-linecap="butt"/>
<line x1="787" y1="2143.3" x2="944.6" y2="2145.7" stroke="#000" stroke-width="3.4" stroke-dasharray="13.6 10.6" stroke-linecap="butt"/>
<line x1="787" y1="2434.2" x2="944.6" y2="2436.6" stroke="#000" stroke-width="3.4" stroke-dasharray="13.6 10.6" stroke-linecap="butt"/>
<text transform="translate(838.05 1848.90) scale(1.1261 1)" font-size="45">0</text>
<text transform="translate(804.72 1936.90) scale(1.0335 1)" font-size="45">3.6</text>
<text transform="translate(803.83 1995.20) scale(1.0577 1)" font-size="45">5.3</text>
<text transform="translate(782.99 2329.80) scale(1.0053 1)" font-size="45">20.4</text>
<text transform="translate(781.24 2580.60) scale(1.0228 1)" font-size="45">31.0</text>
<text transform="translate(580.71 1893.10) scale(0.9958 1)" font-size="47">Gravel fill</text>
<text transform="translate(145.96 1964.50) scale(1.0424 1)" font-size="47">Strongly weathered argillaceous</text>
<text transform="translate(147.20 2016.30) scale(1.0485 1)" font-size="47">siltstone</text>
<text transform="translate(117.67 2157.00) scale(1.0437 1)" font-size="47">Moderately weathered tuffaceous</text>
<text transform="translate(116.89 2209.20) scale(1.0522 1)" font-size="47">gravelly sandstone</text>
<text transform="translate(328.37 2447.50) scale(1.0431 1)" font-size="47">Moderately weathered</text>
<text transform="translate(327.73 2500.30) scale(1.0351 1)" font-size="47">argillaceous siltstone</text>
<polyline points="823.7,2609.7 910.2,2671.6 1091.7,2623.3" fill="none" stroke="#000" stroke-width="3" stroke-linejoin="miter"/>
<text transform="translate(818.29 2729.90) scale(1.0252 1)" font-size="47">Depth<tspan dx="-5.5"> (m)</tspan></text>
<line x1="2139.52" y1="1784.7" x2="2139.52" y2="2754" stroke="#ececec" stroke-width="1.5" stroke-dasharray="11 6" stroke-linecap="butt"/>
<line x1="2106.74" y1="1784.7" x2="2106.74" y2="2754" stroke="#ececec" stroke-width="1.5" stroke-dasharray="11 6" stroke-linecap="butt"/>
<line x1="2073.96" y1="1784.7" x2="2073.96" y2="2754" stroke="#ececec" stroke-width="1.5" stroke-dasharray="11 6" stroke-linecap="butt"/>
<line x1="2041.18" y1="1784.7" x2="2041.18" y2="2754" stroke="#a8a8a8" stroke-width="1.2" stroke-dasharray="1.5 1.5" stroke-linecap="butt"/>
<line x1="2008.4" y1="1784.7" x2="2008.4" y2="2754" stroke="#ececec" stroke-width="1.5" stroke-dasharray="11 6" stroke-linecap="butt"/>
<line x1="1975.62" y1="1784.7" x2="1975.62" y2="2754" stroke="#ececec" stroke-width="1.5" stroke-dasharray="11 6" stroke-linecap="butt"/>
<line x1="1942.84" y1="1784.7" x2="1942.84" y2="2754" stroke="#ececec" stroke-width="1.5" stroke-dasharray="11 6" stroke-linecap="butt"/>
<line x1="1910.06" y1="1784.7" x2="1910.06" y2="2754" stroke="#ececec" stroke-width="1.5" stroke-dasharray="11 6" stroke-linecap="butt"/>
<line x1="1877.28" y1="1784.7" x2="1877.28" y2="2754" stroke="#ececec" stroke-width="1.5" stroke-dasharray="11 6" stroke-linecap="butt"/>
<line x1="1844.5" y1="1784.7" x2="1844.5" y2="2754" stroke="#ececec" stroke-width="1.5" stroke-dasharray="11 6" stroke-linecap="butt"/>
<line x1="1811.72" y1="1784.7" x2="1811.72" y2="2754" stroke="#ececec" stroke-width="1.5" stroke-dasharray="11 6" stroke-linecap="butt"/>
<line x1="1778.94" y1="1784.7" x2="1778.94" y2="2754" stroke="#a8a8a8" stroke-width="1.2" stroke-dasharray="1.5 1.5" stroke-linecap="butt"/>
<line x1="1746.16" y1="1784.7" x2="1746.16" y2="2754" stroke="#ececec" stroke-width="1.5" stroke-dasharray="11 6" stroke-linecap="butt"/>
<line x1="1713.38" y1="1784.7" x2="1713.38" y2="2754" stroke="#ececec" stroke-width="1.5" stroke-dasharray="11 6" stroke-linecap="butt"/>
<line x1="1680.6" y1="1784.7" x2="1680.6" y2="2754" stroke="#ececec" stroke-width="1.5" stroke-dasharray="11 6" stroke-linecap="butt"/>
<line x1="1647.82" y1="1784.7" x2="1647.82" y2="2754" stroke="#a8a8a8" stroke-width="1.2" stroke-dasharray="1.5 1.5" stroke-linecap="butt"/>
<line x1="1615.04" y1="1784.7" x2="1615.04" y2="2754" stroke="#ececec" stroke-width="1.5" stroke-dasharray="11 6" stroke-linecap="butt"/>
<line x1="1582.26" y1="1784.7" x2="1582.26" y2="2754" stroke="#ececec" stroke-width="1.5" stroke-dasharray="11 6" stroke-linecap="butt"/>
<line x1="1549.48" y1="1784.7" x2="1549.48" y2="2754" stroke="#ececec" stroke-width="1.5" stroke-dasharray="11 6" stroke-linecap="butt"/>
<line x1="1527" y1="1878.3" x2="2172.3" y2="1878.3" stroke="#e8e8e8" stroke-width="1.5" stroke-dasharray="11 6" stroke-linecap="butt"/>
<line x1="1527" y1="1924.4" x2="2172.3" y2="1924.4" stroke="#e8e8e8" stroke-width="1.5" stroke-dasharray="11 6" stroke-linecap="butt"/>
<line x1="1527" y1="1970.5" x2="2172.3" y2="1970.5" stroke="#e8e8e8" stroke-width="1.5" stroke-dasharray="11 6" stroke-linecap="butt"/>
<line x1="1527" y1="2016.6" x2="2172.3" y2="2016.6" stroke="#adadad" stroke-width="1.2" stroke-dasharray="3 2 1.2 2" stroke-linecap="butt"/>
<line x1="1527" y1="2062.7" x2="2172.3" y2="2062.7" stroke="#e8e8e8" stroke-width="1.5" stroke-dasharray="11 6" stroke-linecap="butt"/>
<line x1="1527" y1="2108.8" x2="2172.3" y2="2108.8" stroke="#e8e8e8" stroke-width="1.5" stroke-dasharray="11 6" stroke-linecap="butt"/>
<line x1="1527" y1="2154.9" x2="2172.3" y2="2154.9" stroke="#e8e8e8" stroke-width="1.5" stroke-dasharray="11 6" stroke-linecap="butt"/>
<line x1="1527" y1="2201" x2="2172.3" y2="2201" stroke="#e8e8e8" stroke-width="1.5" stroke-dasharray="11 6" stroke-linecap="butt"/>
<line x1="1527" y1="2247.1" x2="2172.3" y2="2247.1" stroke="#adadad" stroke-width="1.2" stroke-dasharray="3 2 1.2 2" stroke-linecap="butt"/>
<line x1="1527" y1="2293.2" x2="2172.3" y2="2293.2" stroke="#e8e8e8" stroke-width="1.5" stroke-dasharray="11 6" stroke-linecap="butt"/>
<line x1="1527" y1="2339.3" x2="2172.3" y2="2339.3" stroke="#e8e8e8" stroke-width="1.5" stroke-dasharray="11 6" stroke-linecap="butt"/>
<line x1="1527" y1="2385.4" x2="2172.3" y2="2385.4" stroke="#e8e8e8" stroke-width="1.5" stroke-dasharray="11 6" stroke-linecap="butt"/>
<line x1="1527" y1="2431.5" x2="2172.3" y2="2431.5" stroke="#e8e8e8" stroke-width="1.5" stroke-dasharray="11 6" stroke-linecap="butt"/>
<line x1="1527" y1="2477.6" x2="2172.3" y2="2477.6" stroke="#e8e8e8" stroke-width="1.5" stroke-dasharray="11 6" stroke-linecap="butt"/>
<line x1="1527" y1="2523.7" x2="2172.3" y2="2523.7" stroke="#e8e8e8" stroke-width="1.5" stroke-dasharray="11 6" stroke-linecap="butt"/>
<line x1="1527" y1="2569.8" x2="2172.3" y2="2569.8" stroke="#e8e8e8" stroke-width="1.5" stroke-dasharray="11 6" stroke-linecap="butt"/>
<line x1="1527" y1="2615.9" x2="2172.3" y2="2615.9" stroke="#e8e8e8" stroke-width="1.5" stroke-dasharray="11 6" stroke-linecap="butt"/>
<line x1="1527" y1="2662" x2="2172.3" y2="2662" stroke="#e8e8e8" stroke-width="1.5" stroke-dasharray="11 6" stroke-linecap="butt"/>
<line x1="1527" y1="2708.1" x2="2172.3" y2="2708.1" stroke="#e8e8e8" stroke-width="1.5" stroke-dasharray="11 6" stroke-linecap="butt"/>
<line x1="1527" y1="2754.2" x2="2172.3" y2="2754.2" stroke="#e8e8e8" stroke-width="1.5" stroke-dasharray="11 6" stroke-linecap="butt"/>
<line x1="1525.8" y1="1784.7" x2="2172.3" y2="1784.7" stroke="#3a3a3a" stroke-width="1.25" stroke-linecap="butt"/>
<line x1="2172.3" y1="1781.7" x2="2172.3" y2="1785.2" stroke="#3a3a3a" stroke-width="1.1" stroke-linecap="butt"/>
<line x1="2139.52" y1="1782.5" x2="2139.52" y2="1785.2" stroke="#3a3a3a" stroke-width="1.1" stroke-linecap="butt"/>
<line x1="2106.74" y1="1782.5" x2="2106.74" y2="1785.2" stroke="#3a3a3a" stroke-width="1.1" stroke-linecap="butt"/>
<line x1="2073.96" y1="1782.5" x2="2073.96" y2="1785.2" stroke="#3a3a3a" stroke-width="1.1" stroke-linecap="butt"/>
<line x1="2041.18" y1="1781.7" x2="2041.18" y2="1785.2" stroke="#3a3a3a" stroke-width="1.1" stroke-linecap="butt"/>
<line x1="2008.4" y1="1782.5" x2="2008.4" y2="1785.2" stroke="#3a3a3a" stroke-width="1.1" stroke-linecap="butt"/>
<line x1="1975.62" y1="1782.5" x2="1975.62" y2="1785.2" stroke="#3a3a3a" stroke-width="1.1" stroke-linecap="butt"/>
<line x1="1942.84" y1="1782.5" x2="1942.84" y2="1785.2" stroke="#3a3a3a" stroke-width="1.1" stroke-linecap="butt"/>
<line x1="1910.06" y1="1781.7" x2="1910.06" y2="1785.2" stroke="#3a3a3a" stroke-width="1.1" stroke-linecap="butt"/>
<line x1="1877.28" y1="1782.5" x2="1877.28" y2="1785.2" stroke="#3a3a3a" stroke-width="1.1" stroke-linecap="butt"/>
<line x1="1844.5" y1="1782.5" x2="1844.5" y2="1785.2" stroke="#3a3a3a" stroke-width="1.1" stroke-linecap="butt"/>
<line x1="1811.72" y1="1782.5" x2="1811.72" y2="1785.2" stroke="#3a3a3a" stroke-width="1.1" stroke-linecap="butt"/>
<line x1="1778.94" y1="1781.7" x2="1778.94" y2="1785.2" stroke="#3a3a3a" stroke-width="1.1" stroke-linecap="butt"/>
<line x1="1746.16" y1="1782.5" x2="1746.16" y2="1785.2" stroke="#3a3a3a" stroke-width="1.1" stroke-linecap="butt"/>
<line x1="1713.38" y1="1782.5" x2="1713.38" y2="1785.2" stroke="#3a3a3a" stroke-width="1.1" stroke-linecap="butt"/>
<line x1="1680.6" y1="1782.5" x2="1680.6" y2="1785.2" stroke="#3a3a3a" stroke-width="1.1" stroke-linecap="butt"/>
<line x1="1647.82" y1="1781.7" x2="1647.82" y2="1785.2" stroke="#3a3a3a" stroke-width="1.1" stroke-linecap="butt"/>
<line x1="1615.04" y1="1782.5" x2="1615.04" y2="1785.2" stroke="#3a3a3a" stroke-width="1.1" stroke-linecap="butt"/>
<line x1="1582.26" y1="1782.5" x2="1582.26" y2="1785.2" stroke="#3a3a3a" stroke-width="1.1" stroke-linecap="butt"/>
<line x1="1549.48" y1="1782.5" x2="1549.48" y2="1785.2" stroke="#3a3a3a" stroke-width="1.1" stroke-linecap="butt"/>
<path d="M1521.8 1784.7 l6.5 -2.4 l0 4.8 z" fill="#222"/>
<line x1="2172.3" y1="1784" x2="2172.3" y2="2754" stroke="#3a3a3a" stroke-width="1.3" stroke-linecap="butt"/>
<path d="M2172.3 2758 l-2.4 -6 l4.8 0 z" fill="#222"/>
<line x1="2170.1" y1="1878.3" x2="2172.8" y2="1878.3" stroke="#3a3a3a" stroke-width="1.3" stroke-linecap="butt"/>
<line x1="2170.1" y1="1924.4" x2="2172.8" y2="1924.4" stroke="#3a3a3a" stroke-width="1.3" stroke-linecap="butt"/>
<line x1="2170.1" y1="1970.5" x2="2172.8" y2="1970.5" stroke="#3a3a3a" stroke-width="1.3" stroke-linecap="butt"/>
<line x1="2170.1" y1="2016.6" x2="2172.8" y2="2016.6" stroke="#3a3a3a" stroke-width="1.3" stroke-linecap="butt"/>
<line x1="2170.1" y1="2062.7" x2="2172.8" y2="2062.7" stroke="#3a3a3a" stroke-width="1.3" stroke-linecap="butt"/>
<line x1="2170.1" y1="2108.8" x2="2172.8" y2="2108.8" stroke="#3a3a3a" stroke-width="1.3" stroke-linecap="butt"/>
<line x1="2170.1" y1="2154.9" x2="2172.8" y2="2154.9" stroke="#3a3a3a" stroke-width="1.3" stroke-linecap="butt"/>
<line x1="2170.1" y1="2201" x2="2172.8" y2="2201" stroke="#3a3a3a" stroke-width="1.3" stroke-linecap="butt"/>
<line x1="2170.1" y1="2247.1" x2="2172.8" y2="2247.1" stroke="#3a3a3a" stroke-width="1.3" stroke-linecap="butt"/>
<line x1="2170.1" y1="2293.2" x2="2172.8" y2="2293.2" stroke="#3a3a3a" stroke-width="1.3" stroke-linecap="butt"/>
<line x1="2170.1" y1="2339.3" x2="2172.8" y2="2339.3" stroke="#3a3a3a" stroke-width="1.3" stroke-linecap="butt"/>
<line x1="2170.1" y1="2385.4" x2="2172.8" y2="2385.4" stroke="#3a3a3a" stroke-width="1.3" stroke-linecap="butt"/>
<line x1="2170.1" y1="2431.5" x2="2172.8" y2="2431.5" stroke="#3a3a3a" stroke-width="1.3" stroke-linecap="butt"/>
<line x1="2170.1" y1="2477.6" x2="2172.8" y2="2477.6" stroke="#3a3a3a" stroke-width="1.3" stroke-linecap="butt"/>
<line x1="2170.1" y1="2523.7" x2="2172.8" y2="2523.7" stroke="#3a3a3a" stroke-width="1.3" stroke-linecap="butt"/>
<line x1="2170.1" y1="2569.8" x2="2172.8" y2="2569.8" stroke="#3a3a3a" stroke-width="1.3" stroke-linecap="butt"/>
<line x1="2170.1" y1="2615.9" x2="2172.8" y2="2615.9" stroke="#3a3a3a" stroke-width="1.3" stroke-linecap="butt"/>
<line x1="2170.1" y1="2662" x2="2172.8" y2="2662" stroke="#3a3a3a" stroke-width="1.3" stroke-linecap="butt"/>
<line x1="2170.1" y1="2708.1" x2="2172.8" y2="2708.1" stroke="#3a3a3a" stroke-width="1.3" stroke-linecap="butt"/>
<line x1="2170.1" y1="2754.2" x2="2172.8" y2="2754.2" stroke="#3a3a3a" stroke-width="1.3" stroke-linecap="butt"/>
<polyline points="2073.79,1820.57 2054.95,1828.15 2047.37,1832.05 2033.3,1840.71 2027.45,1843.96 2013.81,1855.22 2003.63,1864.31 1996.48,1869.73 1979.81,1880.55 1964,1889.87 1971.58,1892.68 1955.99,1906.54 1962.92,1906.54 1949.93,1918.02 1951.66,1921.7 1946.03,1926.68 1952.09,1927.33 1928.27,1945.52 1912.03,1960.24 1924.59,1958.08 1905.53,1974.97 1899.04,1985.15 1892.54,1994.89 1895.79,1998.79 1871.97,2022.39 1860.06,2039.28 1862.21,2036.89 1843.81,2060.06 1839.48,2070.89 1787.51,2122.86 1824.97,2098.39 1788.59,2149.93 1829.3,2120.04 1744.2,2224.63 1720.38,2259.28 1715.52,2266.63 1739.55,2267.07 1715.52,2307.13 1705.34,2332.03 1731.97,2315.79 1677.19,2395.48 1712.49,2384 1682.6,2439.22 1705.34,2426.66 1699.93,2451.13 1682.6,2479.28 1644.81,2548.43 1665.02,2558.99 1598.66,2683.27 1674.07,2606.35 1704.24,2577.09 1646.02,2699.26 1726.86,2579.2 1768.49,2543.91 1738.02,2624.75 1779.65,2562.61 1800.17,2541.79 1766.08,2679.65 1817.36,2587.04 1811.33,2623.24 1867.74,2510.72 1803.79,2685.69 1830.94,2641.04 1856.58,2598.21 1855.97,2623.24 1903.33,2515.85 1879.2,2602.13 1901.83,2559.59 1936.52,2663.06 1931.39,2705.29" fill="none" stroke="#ff1c1c" stroke-width="1.3" stroke-linejoin="round"/>
<circle cx="2073.79" cy="1820.57" r="1.4" fill="#ff1c1c"/>
<circle cx="2054.95" cy="1828.15" r="1.4" fill="#ff1c1c"/>
<circle cx="2047.37" cy="1832.05" r="1.4" fill="#ff1c1c"/>
<circle cx="2033.3" cy="1840.71" r="1.4" fill="#ff1c1c"/>
<circle cx="2027.45" cy="1843.96" r="1.4" fill="#ff1c1c"/>
<circle cx="2013.81" cy="1855.22" r="1.4" fill="#ff1c1c"/>
<circle cx="2003.63" cy="1864.31" r="1.4" fill="#ff1c1c"/>
<circle cx="1996.48" cy="1869.73" r="1.4" fill="#ff1c1c"/>
<circle cx="1979.81" cy="1880.55" r="1.4" fill="#ff1c1c"/>
<circle cx="1964" cy="1889.87" r="1.4" fill="#ff1c1c"/>
<circle cx="1971.58" cy="1892.68" r="1.4" fill="#ff1c1c"/>
<circle cx="1955.99" cy="1906.54" r="1.4" fill="#ff1c1c"/>
<circle cx="1962.92" cy="1906.54" r="1.4" fill="#ff1c1c"/>
<circle cx="1949.93" cy="1918.02" r="1.4" fill="#ff1c1c"/>
<circle cx="1951.66" cy="1921.7" r="1.4" fill="#ff1c1c"/>
<circle cx="1946.03" cy="1926.68" r="1.4" fill="#ff1c1c"/>
<circle cx="1952.09" cy="1927.33" r="1.4" fill="#ff1c1c"/>
<circle cx="1928.27" cy="1945.52" r="1.4" fill="#ff1c1c"/>
<circle cx="1912.03" cy="1960.24" r="1.4" fill="#ff1c1c"/>
<circle cx="1924.59" cy="1958.08" r="1.4" fill="#ff1c1c"/>
<circle cx="1905.53" cy="1974.97" r="1.4" fill="#ff1c1c"/>
<circle cx="1899.04" cy="1985.15" r="1.4" fill="#ff1c1c"/>
<circle cx="1892.54" cy="1994.89" r="1.4" fill="#ff1c1c"/>
<circle cx="1895.79" cy="1998.79" r="1.4" fill="#ff1c1c"/>
<circle cx="1871.97" cy="2022.39" r="1.4" fill="#ff1c1c"/>
<circle cx="1860.06" cy="2039.28" r="1.4" fill="#ff1c1c"/>
<circle cx="1862.21" cy="2036.89" r="1.4" fill="#ff1c1c"/>
<circle cx="1843.81" cy="2060.06" r="1.4" fill="#ff1c1c"/>
<circle cx="1839.48" cy="2070.89" r="1.4" fill="#ff1c1c"/>
<circle cx="1787.51" cy="2122.86" r="1.4" fill="#ff1c1c"/>
<circle cx="1824.97" cy="2098.39" r="1.4" fill="#ff1c1c"/>
<circle cx="1788.59" cy="2149.93" r="1.4" fill="#ff1c1c"/>
<circle cx="1829.3" cy="2120.04" r="1.4" fill="#ff1c1c"/>
<circle cx="1744.2" cy="2224.63" r="1.4" fill="#ff1c1c"/>
<circle cx="1720.38" cy="2259.28" r="1.4" fill="#ff1c1c"/>
<circle cx="1715.52" cy="2266.63" r="1.4" fill="#ff1c1c"/>
<circle cx="1739.55" cy="2267.07" r="1.4" fill="#ff1c1c"/>
<circle cx="1715.52" cy="2307.13" r="1.4" fill="#ff1c1c"/>
<circle cx="1705.34" cy="2332.03" r="1.4" fill="#ff1c1c"/>
<circle cx="1731.97" cy="2315.79" r="1.4" fill="#ff1c1c"/>
<circle cx="1677.19" cy="2395.48" r="1.4" fill="#ff1c1c"/>
<circle cx="1712.49" cy="2384" r="1.4" fill="#ff1c1c"/>
<circle cx="1682.6" cy="2439.22" r="1.4" fill="#ff1c1c"/>
<circle cx="1705.34" cy="2426.66" r="1.4" fill="#ff1c1c"/>
<circle cx="1699.93" cy="2451.13" r="1.4" fill="#ff1c1c"/>
<circle cx="1682.6" cy="2479.28" r="1.4" fill="#ff1c1c"/>
<circle cx="1644.81" cy="2548.43" r="1.4" fill="#ff1c1c"/>
<circle cx="1665.02" cy="2558.99" r="1.4" fill="#ff1c1c"/>
<circle cx="1598.66" cy="2683.27" r="1.4" fill="#ff1c1c"/>
<circle cx="1674.07" cy="2606.35" r="1.4" fill="#ff1c1c"/>
<circle cx="1704.24" cy="2577.09" r="1.4" fill="#ff1c1c"/>
<circle cx="1646.02" cy="2699.26" r="1.4" fill="#ff1c1c"/>
<circle cx="1726.86" cy="2579.2" r="1.4" fill="#ff1c1c"/>
<circle cx="1768.49" cy="2543.91" r="1.4" fill="#ff1c1c"/>
<circle cx="1738.02" cy="2624.75" r="1.4" fill="#ff1c1c"/>
<circle cx="1779.65" cy="2562.61" r="1.4" fill="#ff1c1c"/>
<circle cx="1800.17" cy="2541.79" r="1.4" fill="#ff1c1c"/>
<circle cx="1766.08" cy="2679.65" r="1.4" fill="#ff1c1c"/>
<circle cx="1817.36" cy="2587.04" r="1.4" fill="#ff1c1c"/>
<circle cx="1811.33" cy="2623.24" r="1.4" fill="#ff1c1c"/>
<circle cx="1867.74" cy="2510.72" r="1.4" fill="#ff1c1c"/>
<circle cx="1803.79" cy="2685.69" r="1.4" fill="#ff1c1c"/>
<circle cx="1830.94" cy="2641.04" r="1.4" fill="#ff1c1c"/>
<circle cx="1856.58" cy="2598.21" r="1.4" fill="#ff1c1c"/>
<circle cx="1855.97" cy="2623.24" r="1.4" fill="#ff1c1c"/>
<circle cx="1903.33" cy="2515.85" r="1.4" fill="#ff1c1c"/>
<circle cx="1879.2" cy="2602.13" r="1.4" fill="#ff1c1c"/>
<circle cx="1901.83" cy="2559.59" r="1.4" fill="#ff1c1c"/>
<circle cx="1936.52" cy="2663.06" r="1.4" fill="#ff1c1c"/>
<circle cx="1931.39" cy="2705.29" r="1.4" fill="#ff1c1c"/>
<line x1="1033.4" y1="2714.9" x2="2157.6" y2="2714.9" stroke="#000" stroke-width="3.4" stroke-linecap="butt"/>
<rect x="1612.3" y="1792.9" width="243.6" height="55.6" fill="#fff" stroke="#6a6a6a" stroke-width="1.4"/>
<line x1="1638.5" y1="1824.2" x2="1692.7" y2="1824.2" stroke="#ff1a1a" stroke-width="2.2" stroke-linecap="butt"/>
<circle cx="1665.6" cy="1824.2" r="3.6" fill="#ff1a1a"/>
<text transform="translate(1708.67 1838.90) scale(1.0481 1)" font-size="44">ZK85</text>
<text transform="translate(1563.78 1758.30) scale(1.0123 1)" font-size="46">800</text>
<text transform="translate(1706.20 1758.30) scale(0.9925 1)" font-size="46">600</text>
<text transform="translate(1845.62 1758.30) scale(0.9788 1)" font-size="46">400</text>
<text transform="translate(1987.01 1758.30) scale(0.9834 1)" font-size="46">200</text>
<text transform="translate(2155.47 1758.30) scale(1.0632 1)" font-size="46">0</text>
<text transform="translate(2207.75 1856.00) scale(1.0727 1)" font-size="45">0</text>
<text transform="translate(2190.53 1960.00) scale(0.9167 1)" font-size="45">−5</text>
<text transform="translate(2183.54 2066.40) scale(0.9116 1)" font-size="45">−10</text>
<text transform="translate(2183.56 2184.10) scale(0.9050 1)" font-size="45">−15</text>
<text transform="translate(2183.50 2298.50) scale(0.9311 1)" font-size="45">−20</text>
<text transform="translate(2183.55 2411.50) scale(0.9095 1)" font-size="45">−25</text>
<text transform="translate(2183.50 2518.40) scale(0.9311 1)" font-size="45">−30</text>
<text transform="translate(2183.55 2633.30) scale(0.9095 1)" font-size="45">−35</text>
<rect x="1178.4" y="1824.4" width="2.5" height="837" fill="#c9c3d6"/>
<rect x="1178.4" y="2658.9" width="87.3" height="2.5" fill="#d8d4e0"/>
<rect x="1179.9" y="1824.4" width="87.8" height="834.5" fill="url(#p1v)"/>
<line x1="1184.4" y1="1930.8" x2="1263.7" y2="1930.8" stroke="#f2e21a" stroke-width="1.6" stroke-linecap="butt"/>
<line x1="1184.4" y1="1945.1" x2="1263.7" y2="1945.1" stroke="#f2e21a" stroke-width="1.6" stroke-linecap="butt"/>
<line x1="1184.4" y1="1991.9" x2="1263.7" y2="1991.9" stroke="#a8f400" stroke-width="1.6" stroke-linecap="butt"/>
<line x1="1184.4" y1="2013.9" x2="1263.7" y2="2013.9" stroke="#f2e21a" stroke-width="1.6" stroke-linecap="butt"/>
<line x1="1184.4" y1="2041" x2="1263.7" y2="2041" stroke="#f2e21a" stroke-width="1.6" stroke-linecap="butt"/>
<line x1="1184.4" y1="2061.1" x2="1263.7" y2="2061.1" stroke="#f2e21a" stroke-width="1.6" stroke-linecap="butt"/>
<line x1="1184.4" y1="2071.9" x2="1263.7" y2="2071.9" stroke="#ff6f9a" stroke-width="2.3" stroke-linecap="butt"/>
<line x1="1184.4" y1="2078.7" x2="1263.7" y2="2078.7" stroke="#ff6f9a" stroke-width="2.3" stroke-linecap="butt"/>
<line x1="1184.4" y1="2093.2" x2="1263.7" y2="2093.2" stroke="#ff6f9a" stroke-width="2.3" stroke-linecap="butt"/>
<line x1="1184.4" y1="2104.8" x2="1263.7" y2="2104.8" stroke="#f2e21a" stroke-width="1.6" stroke-linecap="butt"/>
<line x1="1184.4" y1="2114.5" x2="1263.7" y2="2114.5" stroke="#ff6f9a" stroke-width="2.3" stroke-linecap="butt"/>
<line x1="1184.4" y1="2123" x2="1263.7" y2="2123" stroke="#ffa63a" stroke-width="1.6" stroke-linecap="butt"/>
<line x1="1184.4" y1="2131.1" x2="1263.7" y2="2131.1" stroke="#ff6f9a" stroke-width="2.3" stroke-linecap="butt"/>
<line x1="1184.4" y1="2181.4" x2="1263.7" y2="2181.4" stroke="#ffa63a" stroke-width="1.6" stroke-linecap="butt"/>
<line x1="1184.4" y1="2188.7" x2="1263.7" y2="2188.7" stroke="#ffa63a" stroke-width="1.6" stroke-linecap="butt"/>
<line x1="1184.4" y1="2205.3" x2="1263.7" y2="2205.3" stroke="#ffa63a" stroke-width="1.6" stroke-linecap="butt"/>
<line x1="1184.4" y1="2292.4" x2="1263.7" y2="2292.4" stroke="#ffa63a" stroke-width="1.6" stroke-linecap="butt"/>
<line x1="1184.4" y1="2341.5" x2="1263.7" y2="2341.5" stroke="#ffa63a" stroke-width="1.6" stroke-linecap="butt"/>
<line x1="1184.4" y1="2351.1" x2="1263.7" y2="2351.1" stroke="#ff6f9a" stroke-width="2.3" stroke-linecap="butt"/>
<line x1="1184.4" y1="2376.3" x2="1263.7" y2="2376.3" stroke="#ffa63a" stroke-width="1.6" stroke-linecap="butt"/>
<line x1="1184.4" y1="2385" x2="1263.7" y2="2385" stroke="#ffa63a" stroke-width="1.6" stroke-linecap="butt"/>
<line x1="1184.4" y1="2394" x2="1263.7" y2="2394" stroke="#ffa63a" stroke-width="1.6" stroke-linecap="butt"/>
<line x1="1184.4" y1="2421.9" x2="1263.7" y2="2421.9" stroke="#ffa63a" stroke-width="1.6" stroke-linecap="butt"/>
<line x1="1184.4" y1="2441.3" x2="1263.7" y2="2441.3" stroke="#ffa63a" stroke-width="1.6" stroke-linecap="butt"/>
<line x1="1184.4" y1="2449.7" x2="1263.7" y2="2449.7" stroke="#ff6f9a" stroke-width="2.3" stroke-linecap="butt"/>
<line x1="1184.4" y1="2458" x2="1263.7" y2="2458" stroke="#ffa63a" stroke-width="1.6" stroke-linecap="butt"/>
<line x1="1184.4" y1="2467.2" x2="1263.7" y2="2467.2" stroke="#ffa63a" stroke-width="1.6" stroke-linecap="butt"/>
<line x1="1184.4" y1="2481.8" x2="1263.7" y2="2481.8" stroke="#ffa63a" stroke-width="1.6" stroke-linecap="butt"/>
<line x1="1184.4" y1="2487.9" x2="1263.7" y2="2487.9" stroke="#ff6f9a" stroke-width="2.3" stroke-linecap="butt"/>
<line x1="1184.4" y1="2494.1" x2="1263.7" y2="2494.1" stroke="#ffa63a" stroke-width="1.6" stroke-linecap="butt"/>
<line x1="1184.4" y1="2517.7" x2="1263.7" y2="2517.7" stroke="#ffa63a" stroke-width="1.6" stroke-linecap="butt"/>
<line x1="1184.4" y1="2525.1" x2="1263.7" y2="2525.1" stroke="#ffa63a" stroke-width="1.6" stroke-linecap="butt"/>
<line x1="1184.4" y1="2545.2" x2="1263.7" y2="2545.2" stroke="#ffa63a" stroke-width="1.6" stroke-linecap="butt"/>
<line x1="1184.4" y1="2579.6" x2="1263.7" y2="2579.6" stroke="#ffa63a" stroke-width="1.6" stroke-linecap="butt"/>
<line x1="1184.4" y1="2592.4" x2="1263.7" y2="2592.4" stroke="#ffa63a" stroke-width="1.6" stroke-linecap="butt"/>
<line x1="1184.4" y1="2606.3" x2="1263.7" y2="2606.3" stroke="#ff6f9a" stroke-width="2.3" stroke-linecap="butt"/>
<line x1="1184.4" y1="2620.6" x2="1263.7" y2="2620.6" stroke="#ff6f9a" stroke-width="2.3" stroke-linecap="butt"/>
<line x1="1184.4" y1="2638" x2="1263.7" y2="2638" stroke="#ffa63a" stroke-width="1.6" stroke-linecap="butt"/>
<text x="1229" y="1950.4" class="s" font-size="15.3" text-anchor="middle" fill="#2e2630" fill-opacity="0.74">300</text>
<text x="1210.8" y="2019.3" class="s" font-size="15.3" text-anchor="middle" fill="#2e2630" fill-opacity="0.74">400</text>
<text x="1236" y="2065.7" class="s" font-size="15.3" text-anchor="middle" fill="#2e2630" fill-opacity="0.74">500</text>
<text x="1222.4" y="2110.2" class="s" font-size="15.3" text-anchor="middle" fill="#2e2630" fill-opacity="0.74">550</text>
<text x="1243.3" y="2127.6" class="s" font-size="15.3" text-anchor="middle" fill="#2e2630" fill-opacity="0.74">600</text>
<text x="1244" y="2193.4" class="s" font-size="15.3" text-anchor="middle" fill="#2e2630" fill-opacity="0.74">700</text>
<text x="1214.7" y="2399.4" class="s" font-size="15.3" text-anchor="middle" fill="#2e2630" fill-opacity="0.74">750</text>
<text x="1197.3" y="2446.6" class="s" font-size="15.3" text-anchor="middle" fill="#2e2630" fill-opacity="0.74">750</text>
<text x="1239" y="2487.2" class="s" font-size="15.3" text-anchor="middle" fill="#2e2630" fill-opacity="0.74">750</text>
<text x="1236.3" y="2585.4" class="s" font-size="15.3" text-anchor="middle" fill="#2e2630" fill-opacity="0.74">600</text>
<text x="1224.3" y="2597" class="s" font-size="15.3" text-anchor="middle" fill="#2e2630" fill-opacity="0.74">650</text>
<line x1="1174.4" y1="1824.6" x2="1178.9" y2="1824.6" stroke="#d0d0d0" stroke-width="1.5" stroke-linecap="butt"/>
<line x1="1174.4" y1="1944.3" x2="1178.9" y2="1944.3" stroke="#d0d0d0" stroke-width="1.5" stroke-linecap="butt"/>
<line x1="1174.4" y1="2064.2" x2="1178.9" y2="2064.2" stroke="#d0d0d0" stroke-width="1.5" stroke-linecap="butt"/>
<line x1="1174.4" y1="2184.8" x2="1178.9" y2="2184.8" stroke="#d0d0d0" stroke-width="1.5" stroke-linecap="butt"/>
<line x1="1174.4" y1="2303.2" x2="1178.9" y2="2303.2" stroke="#d0d0d0" stroke-width="1.5" stroke-linecap="butt"/>
<line x1="1174.4" y1="2423.1" x2="1178.9" y2="2423.1" stroke="#d0d0d0" stroke-width="1.5" stroke-linecap="butt"/>
<line x1="1174.4" y1="2543.6" x2="1178.9" y2="2543.6" stroke="#d0d0d0" stroke-width="1.5" stroke-linecap="butt"/>
<line x1="1174.4" y1="2661.5" x2="1178.9" y2="2661.5" stroke="#d0d0d0" stroke-width="1.5" stroke-linecap="butt"/>
<text transform="translate(1116.70 1860.10) scale(1.0514 1)" font-size="45">0</text>
<text transform="translate(1096.68 1964.50) scale(0.9418 1)" font-size="45">−5</text>
<text transform="translate(1090.93 2070.10) scale(0.9176 1)" font-size="45">−10</text>
<text transform="translate(1090.93 2186.90) scale(0.9185 1)" font-size="45">−15</text>
<text transform="translate(1090.90 2301.80) scale(0.9326 1)" font-size="45">−20</text>
<text transform="translate(1090.93 2415.20) scale(0.9185 1)" font-size="45">−25</text>
<text transform="translate(1090.90 2522.50) scale(0.9326 1)" font-size="45">−30</text>
<text transform="translate(1090.93 2636.90) scale(0.9185 1)" font-size="45">−35</text>
<text transform="translate(1190.45 1818.40) scale(1.0542 1)" font-size="45">4m</text>
<path d="M1173.8 1810.9 h8.4 l-4.2 13.5 z" fill="#111"/>
<path d="M1261.5 1810.9 h8.4 l-4.2 13.5 z" fill="#111"/>
<rect x="1353.4" y="1823.6" width="2.3" height="817.1" fill="#cfcfcf"/>
<rect x="1307.5" y="1823.6" width="46.4" height="817.1" fill="url(#cb)"/>
<line x1="1354.9" y1="1824.4" x2="1366.9" y2="1824.4" stroke="#cccccc" stroke-width="1.5" stroke-linecap="butt"/>
<line x1="1354.9" y1="1904.8" x2="1366.9" y2="1904.8" stroke="#cccccc" stroke-width="1.5" stroke-linecap="butt"/>
<line x1="1354.9" y1="1986.8" x2="1366.9" y2="1986.8" stroke="#cccccc" stroke-width="1.5" stroke-linecap="butt"/>
<line x1="1354.9" y1="2068.8" x2="1366.9" y2="2068.8" stroke="#cccccc" stroke-width="1.5" stroke-linecap="butt"/>
<line x1="1354.9" y1="2150.4" x2="1366.9" y2="2150.4" stroke="#cccccc" stroke-width="1.5" stroke-linecap="butt"/>
<line x1="1354.9" y1="2232" x2="1366.9" y2="2232" stroke="#cccccc" stroke-width="1.5" stroke-linecap="butt"/>
<line x1="1354.9" y1="2314" x2="1366.9" y2="2314" stroke="#cccccc" stroke-width="1.5" stroke-linecap="butt"/>
<line x1="1354.9" y1="2396" x2="1366.9" y2="2396" stroke="#cccccc" stroke-width="1.5" stroke-linecap="butt"/>
<line x1="1354.9" y1="2477.5" x2="1366.9" y2="2477.5" stroke="#cccccc" stroke-width="1.5" stroke-linecap="butt"/>
<line x1="1354.9" y1="2559.5" x2="1366.9" y2="2559.5" stroke="#cccccc" stroke-width="1.5" stroke-linecap="butt"/>
<line x1="1354.9" y1="2641.8" x2="1366.9" y2="2641.8" stroke="#cccccc" stroke-width="1.5" stroke-linecap="butt"/>
<text transform="translate(1384.11 1844.70) scale(0.9471 1)" font-size="43">100</text>
<text transform="translate(1384.11 1924.80) scale(0.9471 1)" font-size="43">150</text>
<text transform="translate(1384.28 2004.40) scale(0.9587 1)" font-size="43">200</text>
<text transform="translate(1384.28 2085.70) scale(0.9587 1)" font-size="43">250</text>
<text transform="translate(1384.15 2167.70) scale(0.9608 1)" font-size="43">300</text>
<text transform="translate(1384.15 2248.90) scale(0.9608 1)" font-size="43">350</text>
<text transform="translate(1385.26 2331.20) scale(0.9432 1)" font-size="43">400</text>
<text transform="translate(1385.26 2413.20) scale(0.9432 1)" font-size="43">450</text>
<text transform="translate(1383.72 2492.80) scale(0.9676 1)" font-size="43">500</text>
<text transform="translate(1383.72 2574.80) scale(0.9676 1)" font-size="43">550</text>
<text transform="translate(1384.28 2656.40) scale(0.9587 1)" font-size="43">600</text>
<text transform="translate(1337.95 1774.10) scale(0.9633 1)" font-size="46"><tspan font-style="italic">V</tspan><tspan font-size="33.1" dy="9.2">r</tspan><tspan dy="-9.2" dx="9.2">(m/s)</tspan></text>
<rect x="928.3" y="3496.3" width="75.9" height="38.7" fill="#ffd000"/>
<rect x="928.3" y="3534.5" width="75.9" height="54.8" fill="#80ff00"/>
<rect x="928.3" y="3588.8" width="75.9" height="41.7" fill="#00ff00"/>
<rect x="928.3" y="3630" width="75.9" height="45.8" fill="#00e8c0"/>
<rect x="928.3" y="3675.3" width="75.9" height="196.4" fill="#00a2ff"/>
<rect x="928.3" y="3871.2" width="75.9" height="366.8" fill="#ff00ff"/>
<line x1="928.3" y1="3495.5" x2="928.3" y2="4237.5" stroke="#808080" stroke-width="1.3" stroke-linecap="butt"/>
<line x1="1004.2" y1="3495.5" x2="1004.2" y2="4237.5" stroke="#c4c4c4" stroke-width="1.3" stroke-linecap="butt"/>
<line x1="1003.7" y1="3534.5" x2="1003.7" y2="3588.8" stroke="#1a2a00" stroke-width="1.6" stroke-linecap="butt"/>
<line x1="1003.7" y1="3630" x2="1003.7" y2="3675.3" stroke="#0a2a2a" stroke-width="1.6" stroke-linecap="butt"/>
<line x1="928.3" y1="3495.8" x2="1004.2" y2="3495.8" stroke="#3a3000" stroke-width="1.3" stroke-linecap="butt"/>
<line x1="928.3" y1="3588.8" x2="1004.2" y2="3588.8" stroke="#111" stroke-width="1.8" stroke-linecap="butt"/>
<line x1="928.3" y1="3630" x2="1004.2" y2="3630" stroke="#111" stroke-width="1.8" stroke-linecap="butt"/>
<line x1="928.3" y1="3675.3" x2="1004.2" y2="3675.3" stroke="#111" stroke-width="1.8" stroke-linecap="butt"/>
<line x1="928.3" y1="3871.2" x2="1004.2" y2="3871.2" stroke="#111" stroke-width="3.5" stroke-linecap="butt"/>
<line x1="865.5" y1="3496.3" x2="929.3" y2="3496.3" stroke="#000" stroke-width="3.6" stroke-linecap="butt"/>
<line x1="865.5" y1="3534.5" x2="929.3" y2="3534.5" stroke="#000" stroke-width="3.6" stroke-linecap="butt"/>
<line x1="865.5" y1="3588.8" x2="929.3" y2="3588.8" stroke="#000" stroke-width="3.6" stroke-linecap="butt"/>
<line x1="865.5" y1="3630" x2="929.3" y2="3630" stroke="#000" stroke-width="3.6" stroke-linecap="butt"/>
<line x1="865.5" y1="3675.3" x2="929.3" y2="3675.3" stroke="#000" stroke-width="3.6" stroke-linecap="butt"/>
<line x1="865.5" y1="3871.2" x2="929.3" y2="3871.2" stroke="#000" stroke-width="3.6" stroke-linecap="butt"/>
<line x1="865.5" y1="4237.5" x2="929.3" y2="4237.5" stroke="#000" stroke-width="3.6" stroke-linecap="butt"/>
<line x1="771" y1="3512.7" x2="929.5" y2="3515.1" stroke="#000" stroke-width="3.4" stroke-dasharray="13.6 10.6" stroke-linecap="butt"/>
<line x1="771" y1="3559.5" x2="929.5" y2="3561.9" stroke="#000" stroke-width="3.4" stroke-dasharray="13.6 10.6" stroke-linecap="butt"/>
<line x1="771" y1="3611.2" x2="929.5" y2="3613.6" stroke="#000" stroke-width="3.4" stroke-dasharray="13.6 10.6" stroke-linecap="butt"/>
<line x1="771" y1="3650" x2="929.5" y2="3652.4" stroke="#000" stroke-width="3.4" stroke-dasharray="13.6 10.6" stroke-linecap="butt"/>
<line x1="771" y1="3787.2" x2="929.5" y2="3789.6" stroke="#000" stroke-width="3.4" stroke-dasharray="13.6 10.6" stroke-linecap="butt"/>
<line x1="771" y1="4038.9" x2="929.5" y2="4041.3" stroke="#000" stroke-width="3.4" stroke-dasharray="13.6 10.6" stroke-linecap="butt"/>
<text transform="translate(823.94 3513.90) scale(1.1314 1)" font-size="45">0</text>
<text transform="translate(789.37 3552.10) scale(1.0582 1)" font-size="45">1.6</text>
<text transform="translate(791.31 3606.90) scale(1.0388 1)" font-size="45">3.9</text>
<text transform="translate(790.42 3647.60) scale(1.0602 1)" font-size="45">5.2</text>
<text transform="translate(790.55 3691.40) scale(1.0171 1)" font-size="45">7.1</text>
<text transform="translate(766.82 3887.80) scale(1.0203 1)" font-size="45">15.3</text>
<text transform="translate(753.64 4253.10) scale(1.0215 1)" font-size="45">31.0</text>
<text transform="translate(563.30 3531.50) scale(0.9999 1)" font-size="47">Gravel fill</text>
<text transform="translate(594.11 3574.70) scale(1.0141 1)" font-size="47">Plain fill</text>
<text transform="translate(197.59 3621.00) scale(1.0329 1)" font-size="47">Silty clay with crushed stone</text>
<text transform="translate(129.56 3663.70) scale(1.0404 1)" font-size="47">Strongly weathered argillaceous</text>
<text transform="translate(130.83 3716.50) scale(1.0374 1)" font-size="47">siltstone</text>
<text transform="translate(97.87 3800.50) scale(1.0430 1)" font-size="47">Moderately weathered tuffaceous</text>
<text transform="translate(97.09 3852.60) scale(1.0522 1)" font-size="47">gravelly sandstone</text>
<text transform="translate(309.97 4049.70) scale(1.0450 1)" font-size="47">Moderately weathered</text>
<text transform="translate(309.32 4102.40) scale(1.0387 1)" font-size="47">argillaceous siltstone</text>
<polyline points="796.1,4281.8 882.6,4343.1 1063.6,4294.9" fill="none" stroke="#000" stroke-width="3" stroke-linejoin="miter"/>
<text transform="translate(790.69 4402.40) scale(1.0247 1)" font-size="47">Depth<tspan dx="-5.5"> (m)</tspan></text>
<line x1="2119.42" y1="3459.4" x2="2119.42" y2="4399" stroke="#f6f6f6" stroke-width="1.5" stroke-dasharray="11 6" stroke-linecap="butt"/>
<line x1="2094.54" y1="3459.4" x2="2094.54" y2="4399" stroke="#ececec" stroke-width="1.5" stroke-dasharray="11 6" stroke-linecap="butt"/>
<line x1="2069.66" y1="3459.4" x2="2069.66" y2="4399" stroke="#ececec" stroke-width="1.5" stroke-dasharray="11 6" stroke-linecap="butt"/>
<line x1="2044.78" y1="3459.4" x2="2044.78" y2="4399" stroke="#f6f6f6" stroke-width="1.5" stroke-dasharray="11 6" stroke-linecap="butt"/>
<line x1="2019.9" y1="3459.4" x2="2019.9" y2="4399" stroke="#a8a8a8" stroke-width="1.2" stroke-dasharray="1.5 1.5" stroke-linecap="butt"/>
<line x1="1995.02" y1="3459.4" x2="1995.02" y2="4399" stroke="#ececec" stroke-width="1.5" stroke-dasharray="11 6" stroke-linecap="butt"/>
<line x1="1970.14" y1="3459.4" x2="1970.14" y2="4399" stroke="#ececec" stroke-width="1.5" stroke-dasharray="11 6" stroke-linecap="butt"/>
<line x1="1945.26" y1="3459.4" x2="1945.26" y2="4399" stroke="#ececec" stroke-width="1.5" stroke-dasharray="11 6" stroke-linecap="butt"/>
<line x1="1920.38" y1="3459.4" x2="1920.38" y2="4399" stroke="#ececec" stroke-width="1.5" stroke-dasharray="11 6" stroke-linecap="butt"/>
<line x1="1895.5" y1="3459.4" x2="1895.5" y2="4399" stroke="#a8a8a8" stroke-width="1.2" stroke-dasharray="1.5 1.5" stroke-linecap="butt"/>
<line x1="1870.62" y1="3459.4" x2="1870.62" y2="4399" stroke="#f6f6f6" stroke-width="1.5" stroke-dasharray="11 6" stroke-linecap="butt"/>
<line x1="1845.74" y1="3459.4" x2="1845.74" y2="4399" stroke="#ececec" stroke-width="1.5" stroke-dasharray="11 6" stroke-linecap="butt"/>
<line x1="1820.86" y1="3459.4" x2="1820.86" y2="4399" stroke="#ececec" stroke-width="1.5" stroke-dasharray="11 6" stroke-linecap="butt"/>
<line x1="1795.98" y1="3459.4" x2="1795.98" y2="4399" stroke="#f6f6f6" stroke-width="1.5" stroke-dasharray="11 6" stroke-linecap="butt"/>
<line x1="1771.1" y1="3459.4" x2="1771.1" y2="4399" stroke="#a8a8a8" stroke-width="1.2" stroke-dasharray="1.5 1.5" stroke-linecap="butt"/>
<line x1="1746.22" y1="3459.4" x2="1746.22" y2="4399" stroke="#ececec" stroke-width="1.5" stroke-dasharray="11 6" stroke-linecap="butt"/>
<line x1="1721.34" y1="3459.4" x2="1721.34" y2="4399" stroke="#ececec" stroke-width="1.5" stroke-dasharray="11 6" stroke-linecap="butt"/>
<line x1="1696.46" y1="3459.4" x2="1696.46" y2="4399" stroke="#f6f6f6" stroke-width="1.5" stroke-dasharray="11 6" stroke-linecap="butt"/>
<line x1="1671.58" y1="3459.4" x2="1671.58" y2="4399" stroke="#ececec" stroke-width="1.5" stroke-dasharray="11 6" stroke-linecap="butt"/>
<line x1="1646.7" y1="3459.4" x2="1646.7" y2="4399" stroke="#a8a8a8" stroke-width="1.2" stroke-dasharray="1.5 1.5" stroke-linecap="butt"/>
<line x1="1621.82" y1="3459.4" x2="1621.82" y2="4399" stroke="#f6f6f6" stroke-width="1.5" stroke-dasharray="11 6" stroke-linecap="butt"/>
<line x1="1596.94" y1="3459.4" x2="1596.94" y2="4399" stroke="#ececec" stroke-width="1.5" stroke-dasharray="11 6" stroke-linecap="butt"/>
<line x1="1572.06" y1="3459.4" x2="1572.06" y2="4399" stroke="#ececec" stroke-width="1.5" stroke-dasharray="11 6" stroke-linecap="butt"/>
<line x1="1547.18" y1="3459.4" x2="1547.18" y2="4399" stroke="#f6f6f6" stroke-width="1.5" stroke-dasharray="11 6" stroke-linecap="butt"/>
<line x1="1522.3" y1="3459.4" x2="1522.3" y2="4399" stroke="#a8a8a8" stroke-width="1.2" stroke-dasharray="1.5 1.5" stroke-linecap="butt"/>
<line x1="1497.42" y1="3459.4" x2="1497.42" y2="4399" stroke="#ececec" stroke-width="1.5" stroke-dasharray="11 6" stroke-linecap="butt"/>
<line x1="1490" y1="3505" x2="2144.3" y2="3505" stroke="#e8e8e8" stroke-width="1.5" stroke-dasharray="11 6" stroke-linecap="butt"/>
<line x1="1490" y1="3549.63" x2="2144.3" y2="3549.63" stroke="#f5f5f5" stroke-width="1.5" stroke-dasharray="11 6" stroke-linecap="butt"/>
<line x1="1490" y1="3594.26" x2="2144.3" y2="3594.26" stroke="#e8e8e8" stroke-width="1.5" stroke-dasharray="11 6" stroke-linecap="butt"/>
<line x1="1490" y1="3638.89" x2="2144.3" y2="3638.89" stroke="#f5f5f5" stroke-width="1.5" stroke-dasharray="11 6" stroke-linecap="butt"/>
<line x1="1490" y1="3683.52" x2="2144.3" y2="3683.52" stroke="#adadad" stroke-width="1.2" stroke-dasharray="3 2 1.2 2" stroke-linecap="butt"/>
<line x1="1490" y1="3728.15" x2="2144.3" y2="3728.15" stroke="#e8e8e8" stroke-width="1.5" stroke-dasharray="11 6" stroke-linecap="butt"/>
<line x1="1490" y1="3772.78" x2="2144.3" y2="3772.78" stroke="#f5f5f5" stroke-width="1.5" stroke-dasharray="11 6" stroke-linecap="butt"/>
<line x1="1490" y1="3817.41" x2="2144.3" y2="3817.41" stroke="#e8e8e8" stroke-width="1.5" stroke-dasharray="11 6" stroke-linecap="butt"/>
<line x1="1490" y1="3862.04" x2="2144.3" y2="3862.04" stroke="#e8e8e8" stroke-width="1.5" stroke-dasharray="11 6" stroke-linecap="butt"/>
<line x1="1490" y1="3906.67" x2="2144.3" y2="3906.67" stroke="#adadad" stroke-width="1.2" stroke-dasharray="3 2 1.2 2" stroke-linecap="butt"/>
<line x1="1490" y1="3951.3" x2="2144.3" y2="3951.3" stroke="#f5f5f5" stroke-width="1.5" stroke-dasharray="11 6" stroke-linecap="butt"/>
<line x1="1490" y1="3995.93" x2="2144.3" y2="3995.93" stroke="#e8e8e8" stroke-width="1.5" stroke-dasharray="11 6" stroke-linecap="butt"/>
<line x1="1490" y1="4040.56" x2="2144.3" y2="4040.56" stroke="#f5f5f5" stroke-width="1.5" stroke-dasharray="11 6" stroke-linecap="butt"/>
<line x1="1490" y1="4085.19" x2="2144.3" y2="4085.19" stroke="#e8e8e8" stroke-width="1.5" stroke-dasharray="11 6" stroke-linecap="butt"/>
<line x1="1490" y1="4129.82" x2="2144.3" y2="4129.82" stroke="#adadad" stroke-width="1.2" stroke-dasharray="3 2 1.2 2" stroke-linecap="butt"/>
<line x1="1490" y1="4174.45" x2="2144.3" y2="4174.45" stroke="#f5f5f5" stroke-width="1.5" stroke-dasharray="11 6" stroke-linecap="butt"/>
<line x1="1490" y1="4219.08" x2="2144.3" y2="4219.08" stroke="#e8e8e8" stroke-width="1.5" stroke-dasharray="11 6" stroke-linecap="butt"/>
<line x1="1490" y1="4263.71" x2="2144.3" y2="4263.71" stroke="#e8e8e8" stroke-width="1.5" stroke-dasharray="11 6" stroke-linecap="butt"/>
<line x1="1490" y1="4308.34" x2="2144.3" y2="4308.34" stroke="#f5f5f5" stroke-width="1.5" stroke-dasharray="11 6" stroke-linecap="butt"/>
<line x1="1490" y1="4352.97" x2="2144.3" y2="4352.97" stroke="#adadad" stroke-width="1.2" stroke-dasharray="3 2 1.2 2" stroke-linecap="butt"/>
<line x1="1487.3" y1="3459.4" x2="2144.3" y2="3459.4" stroke="#bdbdbd" stroke-width="1.4" stroke-dasharray="3 2 1.2 2" stroke-linecap="butt"/>
<line x1="2144.3" y1="3456.4" x2="2144.3" y2="3461.9" stroke="#666" stroke-width="1.1" stroke-linecap="butt"/>
<line x1="2119.42" y1="3457.2" x2="2119.42" y2="3461.9" stroke="#666" stroke-width="1.1" stroke-linecap="butt"/>
<line x1="2094.54" y1="3457.2" x2="2094.54" y2="3461.9" stroke="#666" stroke-width="1.1" stroke-linecap="butt"/>
<line x1="2069.66" y1="3457.2" x2="2069.66" y2="3461.9" stroke="#666" stroke-width="1.1" stroke-linecap="butt"/>
<line x1="2044.78" y1="3457.2" x2="2044.78" y2="3461.9" stroke="#666" stroke-width="1.1" stroke-linecap="butt"/>
<line x1="2019.9" y1="3456.4" x2="2019.9" y2="3461.9" stroke="#666" stroke-width="1.1" stroke-linecap="butt"/>
<line x1="1995.02" y1="3457.2" x2="1995.02" y2="3461.9" stroke="#666" stroke-width="1.1" stroke-linecap="butt"/>
<line x1="1970.14" y1="3457.2" x2="1970.14" y2="3461.9" stroke="#666" stroke-width="1.1" stroke-linecap="butt"/>
<line x1="1945.26" y1="3457.2" x2="1945.26" y2="3461.9" stroke="#666" stroke-width="1.1" stroke-linecap="butt"/>
<line x1="1920.38" y1="3457.2" x2="1920.38" y2="3461.9" stroke="#666" stroke-width="1.1" stroke-linecap="butt"/>
<line x1="1895.5" y1="3456.4" x2="1895.5" y2="3461.9" stroke="#666" stroke-width="1.1" stroke-linecap="butt"/>
<line x1="1870.62" y1="3457.2" x2="1870.62" y2="3461.9" stroke="#666" stroke-width="1.1" stroke-linecap="butt"/>
<line x1="1845.74" y1="3457.2" x2="1845.74" y2="3461.9" stroke="#666" stroke-width="1.1" stroke-linecap="butt"/>
<line x1="1820.86" y1="3457.2" x2="1820.86" y2="3461.9" stroke="#666" stroke-width="1.1" stroke-linecap="butt"/>
<line x1="1795.98" y1="3457.2" x2="1795.98" y2="3461.9" stroke="#666" stroke-width="1.1" stroke-linecap="butt"/>
<line x1="1771.1" y1="3456.4" x2="1771.1" y2="3461.9" stroke="#666" stroke-width="1.1" stroke-linecap="butt"/>
<line x1="1746.22" y1="3457.2" x2="1746.22" y2="3461.9" stroke="#666" stroke-width="1.1" stroke-linecap="butt"/>
<line x1="1721.34" y1="3457.2" x2="1721.34" y2="3461.9" stroke="#666" stroke-width="1.1" stroke-linecap="butt"/>
<line x1="1696.46" y1="3457.2" x2="1696.46" y2="3461.9" stroke="#666" stroke-width="1.1" stroke-linecap="butt"/>
<line x1="1671.58" y1="3457.2" x2="1671.58" y2="3461.9" stroke="#666" stroke-width="1.1" stroke-linecap="butt"/>
<line x1="1646.7" y1="3456.4" x2="1646.7" y2="3461.9" stroke="#666" stroke-width="1.1" stroke-linecap="butt"/>
<line x1="1621.82" y1="3457.2" x2="1621.82" y2="3461.9" stroke="#666" stroke-width="1.1" stroke-linecap="butt"/>
<line x1="1596.94" y1="3457.2" x2="1596.94" y2="3461.9" stroke="#666" stroke-width="1.1" stroke-linecap="butt"/>
<line x1="1572.06" y1="3457.2" x2="1572.06" y2="3461.9" stroke="#666" stroke-width="1.1" stroke-linecap="butt"/>
<line x1="1547.18" y1="3457.2" x2="1547.18" y2="3461.9" stroke="#666" stroke-width="1.1" stroke-linecap="butt"/>
<line x1="1522.3" y1="3456.4" x2="1522.3" y2="3461.9" stroke="#666" stroke-width="1.1" stroke-linecap="butt"/>
<line x1="1497.42" y1="3457.2" x2="1497.42" y2="3461.9" stroke="#666" stroke-width="1.1" stroke-linecap="butt"/>
<path d="M1483.3 3459.4 l6.5 -2.4 l0 4.8 z" fill="#222"/>
<line x1="2144.3" y1="3458.7" x2="2144.3" y2="4397" stroke="#3a3a3a" stroke-width="1.3" stroke-linecap="butt"/>
<path d="M2144.3 4401 l-2.4 -6 l4.8 0 z" fill="#222"/>
<line x1="2142.1" y1="3505" x2="2144.8" y2="3505" stroke="#3a3a3a" stroke-width="1.3" stroke-linecap="butt"/>
<line x1="2142.1" y1="3549.63" x2="2144.8" y2="3549.63" stroke="#3a3a3a" stroke-width="1.3" stroke-linecap="butt"/>
<line x1="2142.1" y1="3594.26" x2="2144.8" y2="3594.26" stroke="#3a3a3a" stroke-width="1.3" stroke-linecap="butt"/>
<line x1="2142.1" y1="3638.89" x2="2144.8" y2="3638.89" stroke="#3a3a3a" stroke-width="1.3" stroke-linecap="butt"/>
<line x1="2142.1" y1="3683.52" x2="2144.8" y2="3683.52" stroke="#3a3a3a" stroke-width="1.3" stroke-linecap="butt"/>
<line x1="2142.1" y1="3728.15" x2="2144.8" y2="3728.15" stroke="#3a3a3a" stroke-width="1.3" stroke-linecap="butt"/>
<line x1="2142.1" y1="3772.78" x2="2144.8" y2="3772.78" stroke="#3a3a3a" stroke-width="1.3" stroke-linecap="butt"/>
<line x1="2142.1" y1="3817.41" x2="2144.8" y2="3817.41" stroke="#3a3a3a" stroke-width="1.3" stroke-linecap="butt"/>
<line x1="2142.1" y1="3862.04" x2="2144.8" y2="3862.04" stroke="#3a3a3a" stroke-width="1.3" stroke-linecap="butt"/>
<line x1="2142.1" y1="3906.67" x2="2144.8" y2="3906.67" stroke="#3a3a3a" stroke-width="1.3" stroke-linecap="butt"/>
<line x1="2142.1" y1="3951.3" x2="2144.8" y2="3951.3" stroke="#3a3a3a" stroke-width="1.3" stroke-linecap="butt"/>
<line x1="2142.1" y1="3995.93" x2="2144.8" y2="3995.93" stroke="#3a3a3a" stroke-width="1.3" stroke-linecap="butt"/>
<line x1="2142.1" y1="4040.56" x2="2144.8" y2="4040.56" stroke="#3a3a3a" stroke-width="1.3" stroke-linecap="butt"/>
<line x1="2142.1" y1="4085.19" x2="2144.8" y2="4085.19" stroke="#3a3a3a" stroke-width="1.3" stroke-linecap="butt"/>
<line x1="2142.1" y1="4129.82" x2="2144.8" y2="4129.82" stroke="#3a3a3a" stroke-width="1.3" stroke-linecap="butt"/>
<line x1="2142.1" y1="4174.45" x2="2144.8" y2="4174.45" stroke="#3a3a3a" stroke-width="1.3" stroke-linecap="butt"/>
<line x1="2142.1" y1="4219.08" x2="2144.8" y2="4219.08" stroke="#3a3a3a" stroke-width="1.3" stroke-linecap="butt"/>
<line x1="2142.1" y1="4263.71" x2="2144.8" y2="4263.71" stroke="#3a3a3a" stroke-width="1.3" stroke-linecap="butt"/>
<line x1="2142.1" y1="4308.34" x2="2144.8" y2="4308.34" stroke="#3a3a3a" stroke-width="1.3" stroke-linecap="butt"/>
<line x1="2142.1" y1="4352.97" x2="2144.8" y2="4352.97" stroke="#3a3a3a" stroke-width="1.3" stroke-linecap="butt"/>
<polyline points="2053.44,3502.12 2029.93,3514.8 2026.06,3518.67 2032.25,3521.45 2026.06,3525.63 2031.48,3524.86 2021.42,3534.91 2026.06,3535.68 2022.2,3538.78 2026.06,3539.55 2016.78,3547.29 2013.69,3552.7 2018.33,3554.25 2012.14,3561.21 2010.6,3565.85 2005.96,3570.49 2010.6,3570.49 2002.09,3579.77 2008.28,3577.45 2005.18,3585.18 2001.31,3590.6 1998.99,3602.2 2002.09,3609.16 1997.45,3616.89 1985.07,3633.91 1996.67,3626.17 1986.62,3642.41 1986.62,3647.05 1971.93,3669.48 1984.3,3660.2 1970.38,3680 1947.15,3713.83 1928.58,3744.45 1922.09,3760.23 1935.08,3760.79 1894.25,3826.13 1893.32,3838.19 1858.98,3900 1856.98,3903.2 1830.81,3955.17 1841.58,3954.25 1810.02,4017.35 1773.83,4092.53 1779.4,4100.88 1815.59,4053.55 1761.33,4168.37 1783.45,4146.65 1787.87,4156.3 1745.24,4258.86 1752.68,4265.9 1734.18,4350.35 1769.37,4293.44 1762.34,4333.86 1820.65,4283.99 1851.82,4242.77 1850.41,4268.91 1829.7,4347.34 1843.78,4330.24 1893.04,4226.28 1866.9,4328.23 1890.03,4301.09 1918.18,4248.2" fill="none" stroke="#ff1c1c" stroke-width="1.3" stroke-linejoin="round"/>
<circle cx="2053.44" cy="3502.12" r="1.4" fill="#ff1c1c"/>
<circle cx="2029.93" cy="3514.8" r="1.4" fill="#ff1c1c"/>
<circle cx="2026.06" cy="3518.67" r="1.4" fill="#ff1c1c"/>
<circle cx="2032.25" cy="3521.45" r="1.4" fill="#ff1c1c"/>
<circle cx="2026.06" cy="3525.63" r="1.4" fill="#ff1c1c"/>
<circle cx="2031.48" cy="3524.86" r="1.4" fill="#ff1c1c"/>
<circle cx="2021.42" cy="3534.91" r="1.4" fill="#ff1c1c"/>
<circle cx="2026.06" cy="3535.68" r="1.4" fill="#ff1c1c"/>
<circle cx="2022.2" cy="3538.78" r="1.4" fill="#ff1c1c"/>
<circle cx="2026.06" cy="3539.55" r="1.4" fill="#ff1c1c"/>
<circle cx="2016.78" cy="3547.29" r="1.4" fill="#ff1c1c"/>
<circle cx="2013.69" cy="3552.7" r="1.4" fill="#ff1c1c"/>
<circle cx="2018.33" cy="3554.25" r="1.4" fill="#ff1c1c"/>
<circle cx="2012.14" cy="3561.21" r="1.4" fill="#ff1c1c"/>
<circle cx="2010.6" cy="3565.85" r="1.4" fill="#ff1c1c"/>
<circle cx="2005.96" cy="3570.49" r="1.4" fill="#ff1c1c"/>
<circle cx="2010.6" cy="3570.49" r="1.4" fill="#ff1c1c"/>
<circle cx="2002.09" cy="3579.77" r="1.4" fill="#ff1c1c"/>
<circle cx="2008.28" cy="3577.45" r="1.4" fill="#ff1c1c"/>
<circle cx="2005.18" cy="3585.18" r="1.4" fill="#ff1c1c"/>
<circle cx="2001.31" cy="3590.6" r="1.4" fill="#ff1c1c"/>
<circle cx="1998.99" cy="3602.2" r="1.4" fill="#ff1c1c"/>
<circle cx="2002.09" cy="3609.16" r="1.4" fill="#ff1c1c"/>
<circle cx="1997.45" cy="3616.89" r="1.4" fill="#ff1c1c"/>
<circle cx="1985.07" cy="3633.91" r="1.4" fill="#ff1c1c"/>
<circle cx="1996.67" cy="3626.17" r="1.4" fill="#ff1c1c"/>
<circle cx="1986.62" cy="3642.41" r="1.4" fill="#ff1c1c"/>
<circle cx="1986.62" cy="3647.05" r="1.4" fill="#ff1c1c"/>
<circle cx="1971.93" cy="3669.48" r="1.4" fill="#ff1c1c"/>
<circle cx="1984.3" cy="3660.2" r="1.4" fill="#ff1c1c"/>
<circle cx="1970.38" cy="3680" r="1.4" fill="#ff1c1c"/>
<circle cx="1947.15" cy="3713.83" r="1.4" fill="#ff1c1c"/>
<circle cx="1928.58" cy="3744.45" r="1.4" fill="#ff1c1c"/>
<circle cx="1922.09" cy="3760.23" r="1.4" fill="#ff1c1c"/>
<circle cx="1935.08" cy="3760.79" r="1.4" fill="#ff1c1c"/>
<circle cx="1894.25" cy="3826.13" r="1.4" fill="#ff1c1c"/>
<circle cx="1893.32" cy="3838.19" r="1.4" fill="#ff1c1c"/>
<circle cx="1858.98" cy="3900" r="1.4" fill="#ff1c1c"/>
<circle cx="1856.98" cy="3903.2" r="1.4" fill="#ff1c1c"/>
<circle cx="1830.81" cy="3955.17" r="1.4" fill="#ff1c1c"/>
<circle cx="1841.58" cy="3954.25" r="1.4" fill="#ff1c1c"/>
<circle cx="1810.02" cy="4017.35" r="1.4" fill="#ff1c1c"/>
<circle cx="1773.83" cy="4092.53" r="1.4" fill="#ff1c1c"/>
<circle cx="1779.4" cy="4100.88" r="1.4" fill="#ff1c1c"/>
<circle cx="1815.59" cy="4053.55" r="1.4" fill="#ff1c1c"/>
<circle cx="1761.33" cy="4168.37" r="1.4" fill="#ff1c1c"/>
<circle cx="1783.45" cy="4146.65" r="1.4" fill="#ff1c1c"/>
<circle cx="1787.87" cy="4156.3" r="1.4" fill="#ff1c1c"/>
<circle cx="1745.24" cy="4258.86" r="1.4" fill="#ff1c1c"/>
<circle cx="1752.68" cy="4265.9" r="1.4" fill="#ff1c1c"/>
<circle cx="1734.18" cy="4350.35" r="1.4" fill="#ff1c1c"/>
<circle cx="1769.37" cy="4293.44" r="1.4" fill="#ff1c1c"/>
<circle cx="1762.34" cy="4333.86" r="1.4" fill="#ff1c1c"/>
<circle cx="1820.65" cy="4283.99" r="1.4" fill="#ff1c1c"/>
<circle cx="1851.82" cy="4242.77" r="1.4" fill="#ff1c1c"/>
<circle cx="1850.41" cy="4268.91" r="1.4" fill="#ff1c1c"/>
<circle cx="1829.7" cy="4347.34" r="1.4" fill="#ff1c1c"/>
<circle cx="1843.78" cy="4330.24" r="1.4" fill="#ff1c1c"/>
<circle cx="1893.04" cy="4226.28" r="1.4" fill="#ff1c1c"/>
<circle cx="1866.9" cy="4328.23" r="1.4" fill="#ff1c1c"/>
<circle cx="1890.03" cy="4301.09" r="1.4" fill="#ff1c1c"/>
<circle cx="1918.18" cy="4248.2" r="1.4" fill="#ff1c1c"/>
<line x1="1006.2" y1="4387.4" x2="2130.8" y2="4387.4" stroke="#000" stroke-width="3.4" stroke-linecap="butt"/>
<rect x="1584.2" y="3463.6" width="243.7" height="55.7" fill="#fff" stroke="#000" stroke-width="1.6"/>
<line x1="1610.1" y1="3495.3" x2="1665.1" y2="3495.3" stroke="#ff1a1a" stroke-width="2.2" stroke-linecap="butt"/>
<circle cx="1637.6" cy="3495.3" r="3.6" fill="#ff1a1a"/>
<text transform="translate(1681.39 3509.70) scale(1.0367 1)" font-size="44">ZK86</text>
<text transform="translate(1477.75 3432.10) scale(0.9984 1)" font-size="46">1250</text>
<text transform="translate(1598.38 3432.10) scale(0.9902 1)" font-size="46">1000</text>
<text transform="translate(1726.97 3432.10) scale(0.9975 1)" font-size="46">750</text>
<text transform="translate(1854.28 3429.20) scale(1.0391 1)" font-size="46">500</text>
<text transform="translate(1977.18 3429.20) scale(1.0003 1)" font-size="46">250</text>
<text transform="translate(2125.86 3429.20) scale(1.1211 1)" font-size="46">0</text>
<text transform="translate(2187.14 3522.10) scale(1.0300 1)" font-size="45">0</text>
<text transform="translate(2169.45 3627.30) scale(0.9076 1)" font-size="45">−5</text>
<text transform="translate(2162.84 3732.90) scale(0.9116 1)" font-size="45">−10</text>
<text transform="translate(2162.86 3850.20) scale(0.9050 1)" font-size="45">−15</text>
<text transform="translate(2162.80 3964.70) scale(0.9311 1)" font-size="45">−20</text>
<text transform="translate(2162.85 4078.40) scale(0.9095 1)" font-size="45">−25</text>
<text transform="translate(2162.80 4185.70) scale(0.9311 1)" font-size="45">−30</text>
<text transform="translate(2162.85 4300.10) scale(0.9095 1)" font-size="45">−35</text>
<rect x="1149.5" y="3494.8" width="2.5" height="843.9" fill="#c9c3d6"/>
<rect x="1149.5" y="4336.2" width="90.4" height="2.5" fill="#d8d4e0"/>
<rect x="1151" y="3494.8" width="90.9" height="841.4" fill="url(#p2v)"/>
<line x1="1155.5" y1="3590" x2="1237.9" y2="3590" stroke="#f2e21a" stroke-width="1.6" stroke-linecap="butt"/>
<line x1="1155.5" y1="3767.9" x2="1237.9" y2="3767.9" stroke="#f2e21a" stroke-width="1.6" stroke-linecap="butt"/>
<line x1="1155.5" y1="3777.3" x2="1237.9" y2="3777.3" stroke="#c8f000" stroke-width="1.6" stroke-linecap="butt"/>
<line x1="1155.5" y1="3835.6" x2="1237.9" y2="3835.6" stroke="#f2e21a" stroke-width="1.6" stroke-linecap="butt"/>
<line x1="1155.5" y1="3847.9" x2="1237.9" y2="3847.9" stroke="#b0a030" stroke-width="1.6" stroke-linecap="butt"/>
<line x1="1155.5" y1="3873.5" x2="1237.9" y2="3873.5" stroke="#ff6f9a" stroke-width="2.3" stroke-linecap="butt"/>
<line x1="1155.5" y1="3887.8" x2="1237.9" y2="3887.8" stroke="#ff6f9a" stroke-width="2.3" stroke-linecap="butt"/>
<line x1="1155.5" y1="3928" x2="1237.9" y2="3928" stroke="#ffa63a" stroke-width="1.6" stroke-linecap="butt"/>
<line x1="1155.5" y1="3942.7" x2="1237.9" y2="3942.7" stroke="#ffa63a" stroke-width="1.6" stroke-linecap="butt"/>
<line x1="1155.5" y1="3984.8" x2="1237.9" y2="3984.8" stroke="#ffa63a" stroke-width="1.6" stroke-linecap="butt"/>
<line x1="1155.5" y1="4005.7" x2="1237.9" y2="4005.7" stroke="#ff6f9a" stroke-width="2.3" stroke-linecap="butt"/>
<line x1="1155.5" y1="4017.3" x2="1237.9" y2="4017.3" stroke="#ffa63a" stroke-width="1.6" stroke-linecap="butt"/>
<line x1="1155.5" y1="4029.7" x2="1237.9" y2="4029.7" stroke="#ffa63a" stroke-width="1.6" stroke-linecap="butt"/>
<line x1="1155.5" y1="4080.5" x2="1237.9" y2="4080.5" stroke="#ffa63a" stroke-width="1.6" stroke-linecap="butt"/>
<line x1="1155.5" y1="4147.9" x2="1237.9" y2="4147.9" stroke="#ffa63a" stroke-width="1.6" stroke-linecap="butt"/>
<line x1="1155.5" y1="4193.5" x2="1237.9" y2="4193.5" stroke="#ffa63a" stroke-width="1.6" stroke-linecap="butt"/>
<text x="1224.8" y="3550.9" class="s" font-size="15.3" text-anchor="middle" fill="#2e2630" fill-opacity="0.74">200</text>
<text x="1222.9" y="3852.6" class="s" font-size="15.3" text-anchor="middle" fill="#2e2630" fill-opacity="0.74">500</text>
<line x1="1138.5" y1="3494.8" x2="1150" y2="3494.8" stroke="#d0d0d0" stroke-width="1.5" stroke-linecap="butt"/>
<line x1="1138.5" y1="3615.1" x2="1150" y2="3615.1" stroke="#d0d0d0" stroke-width="1.5" stroke-linecap="butt"/>
<line x1="1138.5" y1="3737.7" x2="1150" y2="3737.7" stroke="#d0d0d0" stroke-width="1.5" stroke-linecap="butt"/>
<line x1="1138.5" y1="3857.6" x2="1150" y2="3857.6" stroke="#d0d0d0" stroke-width="1.5" stroke-linecap="butt"/>
<line x1="1138.5" y1="3977.5" x2="1150" y2="3977.5" stroke="#d0d0d0" stroke-width="1.5" stroke-linecap="butt"/>
<line x1="1138.5" y1="4099.3" x2="1150" y2="4099.3" stroke="#d0d0d0" stroke-width="1.5" stroke-linecap="butt"/>
<line x1="1138.5" y1="4219" x2="1150" y2="4219" stroke="#d0d0d0" stroke-width="1.5" stroke-linecap="butt"/>
<text transform="translate(1095.94 3526.10) scale(1.0300 1)" font-size="45">0</text>
<text transform="translate(1075.99 3631.10) scale(0.9350 1)" font-size="45">−5</text>
<text transform="translate(1069.62 3737.10) scale(0.9221 1)" font-size="45">−10</text>
<text transform="translate(1069.62 3853.50) scale(0.9230 1)" font-size="45">−15</text>
<text transform="translate(1069.57 3968.40) scale(0.9446 1)" font-size="45">−20</text>
<text transform="translate(1069.62 4081.90) scale(0.9230 1)" font-size="45">−25</text>
<text transform="translate(1069.57 4188.90) scale(0.9446 1)" font-size="45">−30</text>
<text transform="translate(1069.62 4302.70) scale(0.9230 1)" font-size="45">−35</text>
<text transform="translate(1162.64 3490.80) scale(1.0614 1)" font-size="45">4m</text>
<path d="M1146 3481.3 h8.4 l-4.2 13.5 z" fill="#111"/>
<path d="M1236.1 3481.3 h8.4 l-4.2 13.5 z" fill="#111"/>
<rect x="1325.3" y="3494.8" width="2.3" height="817.8" fill="#cfcfcf"/>
<rect x="1279.4" y="3494.8" width="46.4" height="817.8" fill="url(#cb)"/>
<line x1="1326.8" y1="3495.6" x2="1338.8" y2="3495.6" stroke="#cccccc" stroke-width="1.5" stroke-linecap="butt"/>
<line x1="1326.8" y1="3577.2" x2="1338.8" y2="3577.2" stroke="#cccccc" stroke-width="1.5" stroke-linecap="butt"/>
<line x1="1326.8" y1="3658.8" x2="1338.8" y2="3658.8" stroke="#cccccc" stroke-width="1.5" stroke-linecap="butt"/>
<line x1="1326.8" y1="3740.8" x2="1338.8" y2="3740.8" stroke="#cccccc" stroke-width="1.5" stroke-linecap="butt"/>
<line x1="1326.8" y1="3822.8" x2="1338.8" y2="3822.8" stroke="#cccccc" stroke-width="1.5" stroke-linecap="butt"/>
<line x1="1326.8" y1="3904.8" x2="1338.8" y2="3904.8" stroke="#cccccc" stroke-width="1.5" stroke-linecap="butt"/>
<line x1="1326.8" y1="3986.4" x2="1338.8" y2="3986.4" stroke="#cccccc" stroke-width="1.5" stroke-linecap="butt"/>
<line x1="1326.8" y1="4068.4" x2="1338.8" y2="4068.4" stroke="#cccccc" stroke-width="1.5" stroke-linecap="butt"/>
<line x1="1326.8" y1="4150.2" x2="1338.8" y2="4150.2" stroke="#cccccc" stroke-width="1.5" stroke-linecap="butt"/>
<line x1="1326.8" y1="4231.4" x2="1338.8" y2="4231.4" stroke="#cccccc" stroke-width="1.5" stroke-linecap="butt"/>
<line x1="1326.8" y1="4313.4" x2="1338.8" y2="4313.4" stroke="#cccccc" stroke-width="1.5" stroke-linecap="butt"/>
<text transform="translate(1355.18 3516.30) scale(0.9539 1)" font-size="43">100</text>
<text transform="translate(1355.18 3596.40) scale(0.9539 1)" font-size="43">150</text>
<text transform="translate(1355.37 3676.00) scale(0.9653 1)" font-size="43">200</text>
<text transform="translate(1355.37 3757.30) scale(0.9653 1)" font-size="43">250</text>
<text transform="translate(1355.24 3838.50) scale(0.9674 1)" font-size="43">300</text>
<text transform="translate(1355.24 3920.50) scale(0.9674 1)" font-size="43">350</text>
<text transform="translate(1356.35 4002.50) scale(0.9497 1)" font-size="43">400</text>
<text transform="translate(1356.35 4084.80) scale(0.9497 1)" font-size="43">450</text>
<text transform="translate(1354.81 4164.00) scale(0.9743 1)" font-size="43">500</text>
<text transform="translate(1354.81 4246.00) scale(0.9743 1)" font-size="43">550</text>
<text transform="translate(1355.37 4327.90) scale(0.9653 1)" font-size="43">600</text>
<text transform="translate(1319.85 3464.30) scale(0.9633 1)" font-size="46"><tspan font-style="italic">V</tspan><tspan font-size="33.1" dy="9.2">r</tspan><tspan dy="-9.2" dx="9.2">(m/s)</tspan></text>
<text transform="translate(1176.69 1438.10) scale(0.9769 1)" font-size="86"><tspan>(</tspan><tspan font-weight="bold" font-size="83.0">a</tspan><tspan>)</tspan></text>
<text transform="translate(1171.94 3138.10) scale(1.0149 1)" font-size="86"><tspan>(</tspan><tspan font-weight="bold" font-size="83.0">b</tspan><tspan>)</tspan></text>
<text transform="translate(1179.14 4778.60) scale(0.9651 1)" font-size="86"><tspan>(</tspan><tspan font-weight="bold" font-size="83.0">c</tspan><tspan>)</tspan></text>
</svg>
</body></html>
